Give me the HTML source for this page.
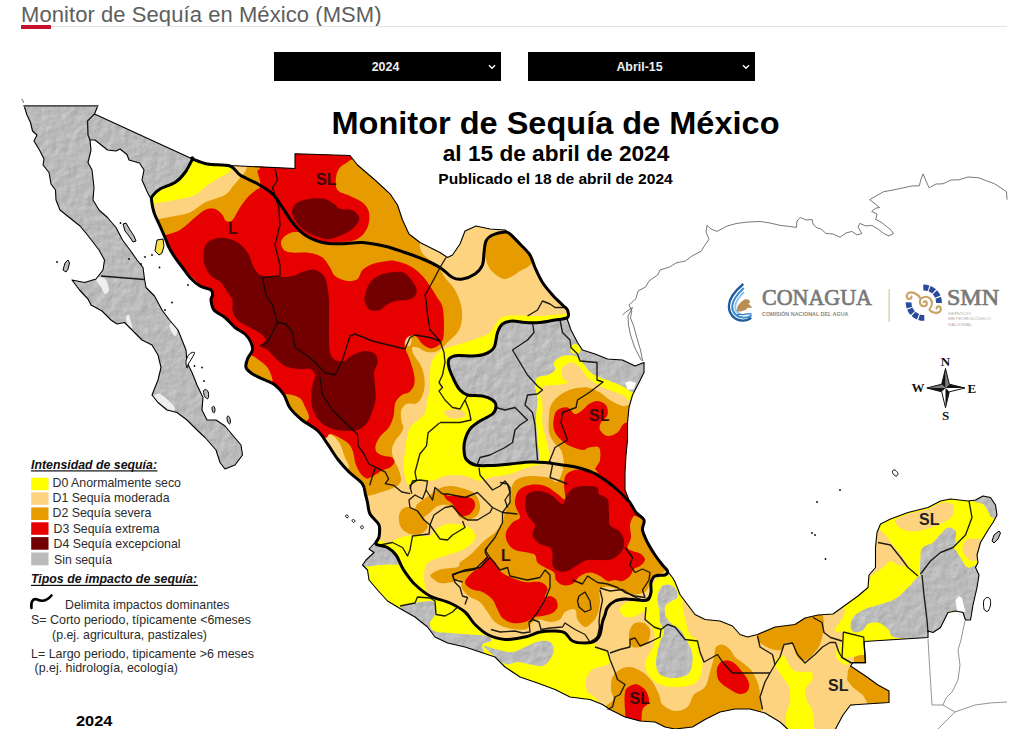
<!DOCTYPE html>
<html><head><meta charset="utf-8">
<style>
html,body{margin:0;padding:0;background:#fff;}
body{width:1024px;height:729px;overflow:hidden;position:relative;font-family:"Liberation Sans",sans-serif;}
.h1{position:absolute;left:21px;top:2px;font-size:22px;color:#5e5e5e;white-space:nowrap;letter-spacing:0.07px;line-height:26px;}
.rule{position:absolute;left:21px;top:25.5px;width:986px;height:1px;background:#e3e3e3;}
.red{position:absolute;left:21px;top:25px;width:30px;height:4px;background:#c8102e;}
.dd{position:absolute;top:52px;height:29px;width:227px;background:#000;color:#efefef;font-size:12.4px;font-weight:bold;text-align:center;line-height:31px;box-sizing:border-box;padding-right:4px;}
.dd svg{position:absolute;right:5px;top:12px;}
</style></head>
<body>
<div class="h1">Monitor de Sequía en México (MSM)</div>
<div class="rule"></div><div class="red"></div>
<div class="dd" style="left:274px">2024<svg width="8" height="6" viewBox="0 0 8 6"><path d="M1,1.2 L4,4.2 L7,1.2" fill="none" stroke="#fff" stroke-width="1.4"/></svg></div>
<div class="dd" style="left:528px">Abril-15<svg width="8" height="6" viewBox="0 0 8 6"><path d="M1,1.2 L4,4.2 L7,1.2" fill="none" stroke="#fff" stroke-width="1.4"/></svg></div>
<svg width="1024" height="729" viewBox="0 0 1024 729" style="position:absolute;left:0;top:0">
<defs><clipPath id="mx"><path d="M94.5,114.0 L192.5,159.0 L207.5,164.0 L230.0,165.5 L295.0,168.5 L295.0,153.8 L350.0,155.5 L357.5,165.0 L375.0,180.0 L390.0,193.8 L397.5,205.0 L402.5,220.0 L409.0,234.0 L420.0,242.5 L430.0,247.5 L440.0,252.5 L447.5,257.5 L452.5,255.0 L460.0,244.0 L465.0,231.0 L476.0,226.0 L490.0,229.0 L505.0,230.0 L510.0,234.0 L520.0,244.0 L530.0,255.0 L535.0,267.5 L542.5,282.5 L552.5,295.0 L562.5,305.0 L567.5,310.0 L567.5,320.0 L571.0,330.0 L577.5,342.5 L582.5,350.0 L595.0,354.0 L607.5,359.0 L622.5,360.0 L635.0,366.0 L644.0,362.5 L644.0,372.5 L639.0,382.5 L632.5,395.0 L629.0,407.5 L627.5,422.5 L627.5,440.0 L626.0,455.0 L625.0,472.5 L625.0,490.0 L630.0,502.5 L636.0,512.5 L644.0,520.0 L642.5,530.0 L647.5,542.5 L655.0,555.0 L662.5,565.0 L667.5,571.0 L672.5,577.5 L675.0,582.0 L680.0,594.5 L687.5,604.5 L695.0,614.5 L705.0,619.5 L720.0,621.0 L732.5,626.0 L740.0,634.5 L747.5,637.0 L757.5,634.5 L775.0,627.0 L795.0,624.5 L805.0,618.0 L818.0,615.0 L833.0,614.0 L845.5,605.0 L858.0,596.0 L868.0,587.5 L869.0,575.0 L875.5,567.5 L875.5,547.5 L877.0,532.5 L880.5,524.0 L890.5,519.0 L908.0,512.5 L928.0,507.5 L940.5,501.0 L950.5,499.0 L968.0,501.0 L975.5,500.0 L983.0,496.0 L990.5,497.5 L995.5,505.0 L997.0,515.0 L993.0,522.5 L988.0,530.0 L980.5,542.5 L977.0,555.0 L978.0,562.5 L975.5,567.5 L979.0,575.0 L977.0,587.5 L973.0,605.0 L970.5,620.0 L965.5,620.0 L963.0,612.5 L955.5,611.0 L948.0,612.5 L940.5,627.5 L933.0,632.5 L928.0,631.0 L928.0,637.5 L864.0,641.5 L865.5,662.5 L853.0,662.5 L850.5,666.0 L865.5,676.0 L878.0,685.0 L889.0,691.0 L889.0,702.5 L850.5,705.0 L843.0,715.0 L835.5,729.0 L834.0,740.0 L792.0,740.0 L787.5,729.0 L780.0,722.0 L765.0,713.0 L750.0,709.0 L735.0,709.0 L720.0,712.0 L705.0,719.5 L692.5,727.0 L675.0,729.0 L665.0,727.0 L655.0,722.0 L640.0,721.0 L625.0,717.0 L610.0,709.5 L602.5,704.5 L590.0,699.5 L570.0,697.0 L555.0,689.5 L537.5,683.0 L520.0,677.0 L505.0,667.0 L495.0,657.0 L480.0,652.0 L465.0,647.0 L447.5,643.0 L435.0,637.0 L427.5,627.0 L415.0,617.0 L400.0,608.5 L387.5,601.0 L377.5,590.0 L369.0,580.0 L367.5,570.0 L362.5,565.0 L366.0,560.0 L374.0,552.5 L369.0,549.0 L375.0,542.5 L379.0,536.0 L379.0,525.0 L370.0,514.0 L367.5,502.5 L365.6,495.0 L362.3,483.7 L349.0,472.0 L337.6,459.0 L327.7,444.2 L317.9,431.0 L301.4,419.5 L290.0,408.0 L284.0,395.0 L275.0,385.0 L265.0,380.0 L252.5,374.0 L246.0,367.5 L247.5,359.0 L252.5,350.0 L251.0,342.5 L245.0,334.0 L235.0,327.5 L225.0,317.5 L214.0,310.0 L211.0,300.0 L212.5,295.0 L211.0,290.0 L200.0,286.0 L190.0,277.5 L182.5,267.5 L175.0,257.5 L169.0,247.5 L165.0,237.5 L160.0,226.0 L154.0,212.5 L151.5,200.0 L147.5,192.5 L142.0,180.0 L144.0,170.0 L139.5,163.0 L129.0,160.0 L127.0,154.5 L120.0,149.0 L116.0,151.0 L107.5,150.0 L100.0,144.0 L95.0,140.0 L90.0,140.0 L91.0,150.0 L88.0,162.5 L92.0,170.0 L94.0,187.5 L93.0,200.0 L99.0,210.0 L107.5,217.5 L116.0,227.5 L122.5,240.0 L130.0,250.0 L137.0,260.0 L143.0,267.5 L144.5,279.0 L146.0,287.5 L154.5,296.0 L162.0,310.0 L169.5,320.0 L178.0,330.0 L182.0,340.0 L186.0,350.0 L187.0,362.5 L192.0,372.5 L197.0,385.0 L203.0,397.5 L202.0,410.0 L207.0,420.0 L216.0,420.0 L225.0,426.0 L232.5,435.0 L241.0,445.0 L242.5,455.0 L235.0,465.0 L225.0,469.0 L220.0,462.5 L216.0,450.0 L205.0,437.5 L197.0,430.0 L187.0,420.0 L177.0,412.5 L167.0,410.0 L158.0,402.5 L152.0,395.0 L158.0,380.0 L161.0,367.5 L158.0,355.0 L152.0,345.0 L142.0,340.0 L132.0,330.0 L124.5,322.5 L117.0,324.0 L111.0,320.0 L102.0,311.0 L91.0,305.0 L88.0,299.0 L79.5,290.0 L72.0,280.0 L84.5,282.5 L96.0,279.0 L103.0,270.0 L104.5,260.0 L99.0,250.0 L87.5,235.0 L80.0,226.0 L72.5,220.0 L60.0,210.0 L56.0,200.0 L55.5,190.0 L51.0,184.0 L49.0,172.5 L43.0,165.0 L44.0,159.0 L40.0,151.0 L34.0,141.0 L37.0,135.0 L32.5,131.0 L30.5,122.5 L27.0,115.0 L24.0,105.5 L98.0,105.5 Z"/>
</clipPath>
<filter id="relief" x="0" y="0" width="100%" height="100%" filterUnits="objectBoundingBox" color-interpolation-filters="sRGB">
<feTurbulence type="fractalNoise" baseFrequency="0.11" numOctaves="4" seed="7" result="t"/>
<feDiffuseLighting in="t" surfaceScale="0.4" diffuseConstant="1" lighting-color="#ffffff" result="l"><feDistantLight azimuth="225" elevation="50"/></feDiffuseLighting>
<feBlend in="SourceGraphic" in2="l" mode="multiply" result="b"/>
<feComposite in="b" in2="SourceGraphic" operator="in"/>
</filter>
</defs>
<path d="M642.7,361.0 L640.5,350.0 L637.5,340.0 L635.0,331.0 L633.8,326.5 L630.5,318.0 L631.8,310.7 L629.0,305.0 L635.8,298.8 L638.0,291.0 L645.7,286.9 L649.0,281.0 L657.6,275.0 L660.0,270.0 L669.5,267.0 L676.0,263.0 L685.3,261.0 L692.0,256.0 L701.2,251.2 L705.0,245.0 L709.0,239.3 L706.0,232.0 L707.0,225.4 L711.0,229.0 L717.0,231.4 L727.0,226.0 L736.9,223.4 L748.0,222.0 L760.7,221.5 L770.0,223.0 L780.5,225.4 L790.0,226.5 L796.4,227.4 L797.0,221.0 L800.3,217.5 L806.0,220.0 L812.2,219.5 L813.0,224.0 L816.2,227.4 L821.0,229.0 L826.0,233.4 L833.0,234.0 L840.0,237.3 L846.0,233.0 L851.9,231.4 L857.0,235.0 L861.8,233.4 L858.0,227.0 L859.8,223.4 L866.0,226.0 L871.7,225.4 L878.0,229.0 L883.6,233.4 L889.0,236.0 L893.5,233.4 L890.0,229.0 L887.6,227.4 L881.0,222.0 L875.7,219.5 L877.0,214.0 L871.7,211.5 L876.0,208.0 L879.6,207.6 L874.0,203.0 L869.7,199.7 L876.0,196.0 L883.6,191.7 L893.0,190.0 L903.4,187.8 L912.0,186.0 L919.3,185.8 L921.0,179.0 L923.2,173.9 L926.0,181.0 L929.2,187.8 L936.0,184.0 L943.0,183.8 L951.0,180.0 L958.9,179.8 L968.0,177.0 L978.8,177.8 L987.0,181.0 L994.6,183.8 L1001.0,188.0 L1006.5,191.7 L1007.0,199.7" fill="none" stroke="#555" stroke-width="0.8"/>
<path d="M622.5,315.0 L627.0,311.0 L632.5,307.5 L628.0,316.0 L628.5,325.0 L630.5,335.0 L634.5,347.0 L638.5,355.0 L641.5,360.5" fill="none" stroke="#555" stroke-width="0.8"/>
<path d="M928.0,639.0 L929.5,665.0 L932.0,705.0 L943.0,705.0 L946.0,698.0 L952.0,692.0 L958.0,680.0 L960.0,665.0 L958.0,650.0 L961.0,640.0 L963.0,630.0 L965.0,621.0" fill="none" stroke="#666" stroke-width="0.7"/>
<path d="M835.5,729.0 L840.0,712.0 L845.0,706.0 L856.0,704.5" fill="none" stroke="#666" stroke-width="0.7"/>
<path d="M943.0,705.0 L955.0,712.0 L975.0,705.0 L990.0,703.0 L1007.0,702.0" fill="none" stroke="#666" stroke-width="0.7"/>
<path d="M955.0,712.0 L945.0,722.0 L938.0,729.0" fill="none" stroke="#666" stroke-width="0.7"/>
<g clip-path="url(#mx)">
<rect x="0" y="90" width="330" height="400" fill="#f4f4f4" filter="url(#relief)"/>
<path d="M192.5,159.0 L185.0,172.5 L175.0,182.5 L160.0,189.0 L151.0,197.0 L145.0,215.0 L175.0,275.0 L215.0,340.0 L240.0,400.0 L290.0,470.0 L300.0,740.0 L1030.0,740.0 L1030.0,90.0 L192.5,90.0 Z" fill="#ffff00" />
<path d="M140.0,210.0 C143.8,208.2 147.2,205.7 153.0,204.0 C158.8,202.3 168.0,201.5 175.0,200.0 C182.0,198.5 189.6,197.5 195.0,195.0 C200.4,192.5 203.3,187.9 207.5,185.0 C211.7,182.1 216.2,179.8 220.0,177.5 C223.8,175.2 228.0,173.9 230.0,171.0 C232.0,168.1 231.7,166.8 232.0,160.0 C232.3,153.2 169.0,135.0 232.0,130.0 C295.0,125.0 547.0,99.3 610.0,130.0 C673.0,160.7 617.2,283.3 610.0,314.0 C602.8,344.7 578.7,313.7 567.0,314.0 C555.3,314.3 547.8,315.8 540.0,316.0 C532.2,316.2 525.8,315.5 520.0,315.5 C514.2,315.5 508.8,315.0 505.0,316.0 C501.2,317.0 500.0,318.8 497.5,321.5 C495.0,324.2 492.9,329.8 490.0,332.5 C487.1,335.2 484.2,335.8 480.0,337.5 C475.8,339.2 470.5,340.8 465.0,342.5 C459.5,344.2 451.3,346.3 447.0,348.0 C442.7,349.7 441.2,350.9 439.0,352.5 C436.8,354.1 435.3,355.6 434.0,357.5 C432.7,359.4 431.7,361.0 431.0,364.0 C430.3,367.0 430.2,371.5 430.0,375.6 C429.8,379.7 430.4,385.0 430.0,388.8 C429.6,392.6 428.5,394.6 427.6,398.6 C426.8,402.6 426.7,409.2 424.9,413.0 C423.1,416.8 419.1,418.8 416.6,421.2 C414.1,423.6 411.6,424.7 410.0,427.7 C408.4,430.7 407.5,435.4 406.7,439.3 C405.9,443.2 405.6,446.4 405.1,450.8 C404.6,455.2 403.5,461.2 403.5,465.6 C403.5,470.0 404.0,473.5 405.1,477.1 C406.2,480.7 408.4,486.1 410.0,487.0 C411.6,487.9 412.5,483.5 415.0,482.5 C417.5,481.5 421.7,481.4 425.0,481.0 C428.3,480.6 431.7,480.8 435.0,480.0 C438.3,479.2 440.8,476.8 445.0,476.0 C449.2,475.2 455.8,474.8 460.0,475.0 C464.2,475.2 466.7,476.5 470.0,477.5 C473.3,478.5 476.7,481.0 480.0,481.0 C483.3,481.0 485.8,478.5 490.0,477.5 C494.2,476.5 500.8,475.8 505.0,475.0 C509.2,474.2 511.7,473.7 515.0,472.5 C518.3,471.3 521.2,469.2 525.0,468.0 C528.8,466.8 534.0,466.2 538.0,465.0 C542.0,463.8 547.4,464.3 549.0,461.0 C550.6,457.7 548.6,451.0 547.5,445.0 C546.4,439.0 543.3,431.7 542.5,425.0 C541.7,418.3 542.9,410.4 542.5,405.0 C542.1,399.6 539.6,395.7 540.0,392.5 C540.4,389.3 542.1,387.2 545.0,386.0 C547.9,384.8 553.8,385.6 557.5,385.0 C561.2,384.4 566.7,383.8 567.5,382.5 C568.3,381.2 563.3,380.0 562.5,377.5 C561.7,375.0 560.8,370.0 562.5,367.5 C564.2,365.0 569.6,362.5 572.5,362.5 C575.4,362.5 577.5,365.0 580.0,367.5 C582.5,370.0 584.2,374.4 587.5,377.5 C590.8,380.6 595.8,383.8 600.0,386.0 C604.2,388.2 608.3,389.3 612.5,391.0 C616.7,392.7 621.9,394.5 625.0,396.0 C628.1,397.5 623.5,399.3 631.0,400.0 C638.5,400.7 658.5,383.3 670.0,400.0 C681.5,416.7 695.0,471.5 700.0,500.0 C705.0,528.5 705.5,559.2 700.0,571.0 C694.5,582.8 672.8,570.3 667.0,571.0 C661.2,571.7 667.0,574.2 665.0,575.0 C663.0,575.8 657.3,574.8 655.0,576.0 C652.7,577.2 651.7,579.8 651.0,582.5 C650.3,585.2 651.6,589.6 651.0,592.5 C650.4,595.4 649.8,598.8 647.5,600.0 C645.2,601.2 641.2,600.2 637.5,600.0 C633.8,599.8 628.8,598.8 625.0,599.0 C621.2,599.2 617.9,599.6 615.0,601.0 C612.1,602.4 609.2,605.2 607.5,607.5 C605.8,609.8 605.8,612.6 605.0,615.0 C604.2,617.4 603.3,618.8 602.5,622.0 C601.7,625.2 601.2,631.3 600.0,634.5 C598.8,637.7 597.5,639.6 595.0,641.0 C592.5,642.4 588.8,643.0 585.0,643.0 C581.2,643.0 575.8,642.7 572.5,641.0 C569.2,639.3 567.9,634.7 565.0,633.0 C562.1,631.3 559.2,631.2 555.0,631.0 C550.8,630.8 545.0,631.0 540.0,632.0 C535.0,633.0 530.8,635.8 525.0,637.0 C519.2,638.2 511.2,639.9 505.0,639.5 C498.8,639.1 492.5,637.0 487.5,634.5 C482.5,632.0 478.8,628.2 475.0,624.5 C471.2,620.8 469.2,615.6 465.0,612.0 C460.8,608.4 455.8,605.7 450.0,603.0 C444.2,600.3 434.2,599.0 430.0,596.0 C425.8,593.0 426.0,588.5 425.0,585.0 C424.0,581.5 423.8,578.3 424.0,575.0 C424.2,571.7 424.6,567.5 426.0,565.0 C427.4,562.5 429.3,561.5 432.5,560.0 C435.7,558.5 440.4,557.5 445.0,556.0 C449.6,554.5 455.8,552.8 460.0,551.0 C464.2,549.2 467.5,547.2 470.0,545.0 C472.5,542.8 474.6,540.0 475.0,537.5 C475.4,535.0 474.6,532.1 472.5,530.0 C470.4,527.9 466.7,526.0 462.5,525.0 C458.3,524.0 452.1,523.2 447.5,524.0 C442.9,524.8 437.9,528.0 435.0,530.0 C432.1,532.0 433.3,535.2 430.0,536.0 C426.7,536.8 420.0,534.8 415.0,535.0 C410.0,535.2 403.8,536.5 400.0,537.5 C396.2,538.5 394.6,540.1 392.5,541.0 C390.4,541.9 389.6,543.0 387.5,543.0 C385.4,543.0 387.1,542.0 380.0,541.0 C372.9,540.0 360.0,553.8 345.0,537.0 C330.0,520.2 314.2,479.5 290.0,440.0 C265.8,400.5 226.7,337.5 200.0,300.0 C173.3,262.5 140.0,230.0 130.0,215.0 C120.0,200.0 136.2,211.8 140.0,210.0 Z" fill="#fdd380" />
<path d="M595.0,641.0 C595.0,643.5 597.9,647.7 600.0,649.5 C602.1,651.3 605.8,650.3 607.5,652.0 C609.2,653.7 610.0,657.4 610.0,659.5 C610.0,661.6 610.4,662.8 607.5,664.5 C604.6,666.2 596.1,667.0 592.5,669.5 C588.9,672.0 586.8,675.8 586.0,679.5 C585.2,683.2 585.6,688.2 587.5,692.0 C589.4,695.8 595.9,694.0 597.5,702.0 C599.1,710.0 547.4,733.7 597.0,740.0 C646.6,746.3 845.3,753.8 895.0,740.0 C944.7,726.2 903.7,670.8 895.0,657.0 C886.3,643.2 851.7,661.1 843.0,657.0 C834.3,652.9 844.2,637.0 843.0,632.5 C841.8,628.0 836.8,635.4 835.5,630.0 C834.2,624.6 857.6,611.7 835.0,600.0 C812.4,588.3 727.8,564.8 700.0,560.0 C672.2,555.2 673.8,568.5 668.0,571.0 C662.2,573.5 667.2,574.2 665.0,575.0 C662.8,575.8 657.3,574.8 655.0,576.0 C652.7,577.2 651.7,579.8 651.0,582.5 C650.3,585.2 651.6,589.6 651.0,592.5 C650.4,595.4 649.8,598.8 647.5,600.0 C645.2,601.2 641.2,600.2 637.5,600.0 C633.8,599.8 628.8,598.8 625.0,599.0 C621.2,599.2 617.9,599.6 615.0,601.0 C612.1,602.4 609.2,605.2 607.5,607.5 C605.8,609.8 605.8,612.6 605.0,615.0 C604.2,617.4 603.3,618.8 602.5,622.0 C601.7,625.2 601.2,631.3 600.0,634.5 C598.8,637.7 595.0,638.5 595.0,641.0 Z" fill="#fdd380" />
<path d="M895.5,520.0 C897.2,518.0 902.6,515.8 908.0,514.0 C913.4,512.2 922.2,510.9 928.0,509.0 C933.8,507.1 938.8,503.2 943.0,502.5 C947.2,501.8 951.3,503.1 953.0,505.0 C954.7,506.9 953.8,511.5 953.0,514.0 C952.2,516.5 950.5,518.2 948.0,520.0 C945.5,521.8 942.2,523.3 938.0,525.0 C933.8,526.7 928.0,529.0 923.0,530.0 C918.0,531.0 912.2,531.7 908.0,531.0 C903.8,530.3 900.1,527.8 898.0,526.0 C895.9,524.2 893.8,522.0 895.5,520.0 Z" fill="#fdd380" />
<path d="M870.0,525.0 C872.2,517.2 875.4,527.3 878.0,529.0 C880.6,530.7 883.0,532.3 885.5,535.0 C888.0,537.7 890.1,541.2 893.0,545.0 C895.9,548.8 900.7,554.2 903.0,557.5 C905.3,560.8 907.8,563.8 907.0,565.0 C906.2,566.2 900.8,565.7 898.0,565.0 C895.2,564.3 893.0,560.6 890.5,561.0 C888.0,561.4 885.5,565.6 883.0,567.5 C880.5,569.4 878.5,571.1 875.5,572.5 C872.5,573.9 865.9,583.9 865.0,576.0 C864.1,568.1 867.8,532.8 870.0,525.0 Z" fill="#fdd380" />
<path d="M963.0,545.0 C963.8,542.8 965.5,540.0 968.0,539.0 C970.5,538.0 974.3,538.8 978.0,539.0 C981.7,539.2 988.8,537.2 990.0,540.0 C991.2,542.8 987.8,552.5 985.0,556.0 C982.2,559.5 976.0,560.8 973.0,561.0 C970.0,561.2 968.7,558.9 967.0,557.5 C965.3,556.1 963.7,554.6 963.0,552.5 C962.3,550.4 962.2,547.2 963.0,545.0 Z" fill="#fdd380" />
<path d="M620.0,609.5 C620.2,607.3 622.1,604.4 625.0,603.0 C627.9,601.6 633.3,601.2 637.5,601.0 C641.7,600.8 647.9,601.2 650.0,602.0 C652.1,602.8 651.2,604.3 650.0,606.0 C648.8,607.7 645.4,610.2 642.5,612.0 C639.6,613.8 635.6,616.3 632.5,617.0 C629.4,617.7 626.1,617.2 624.0,616.0 C621.9,614.8 619.8,611.7 620.0,609.5 Z" fill="#ffff00" />
<path d="M650.0,592.0 C650.7,588.2 651.5,584.7 654.0,582.0 C656.5,579.3 659.8,576.0 665.0,576.0 C670.2,576.0 682.1,577.2 685.0,582.0 C687.9,586.8 682.3,597.8 682.5,604.5 C682.7,611.2 684.8,617.0 686.0,622.0 C687.2,627.0 687.8,631.2 690.0,634.5 C692.2,637.8 697.3,638.7 699.0,642.0 C700.7,645.3 699.4,650.8 700.0,654.5 C700.6,658.2 702.5,660.8 702.5,664.5 C702.5,668.2 701.7,673.7 700.0,677.0 C698.3,680.3 696.7,682.8 692.5,684.5 C688.3,686.2 680.4,687.0 675.0,687.0 C669.6,687.0 664.2,686.2 660.0,684.5 C655.8,682.8 652.5,680.3 650.0,677.0 C647.5,673.7 645.2,668.2 645.0,664.5 C644.8,660.8 647.5,657.8 649.0,654.5 C650.5,651.2 653.2,648.2 654.0,644.5 C654.8,640.8 655.1,635.8 654.0,632.0 C652.9,628.2 648.8,625.3 647.5,622.0 C646.2,618.7 645.6,614.9 646.0,612.0 C646.4,609.1 649.3,607.8 650.0,604.5 C650.7,601.2 649.3,595.8 650.0,592.0 Z" fill="#ffff00" />
<path d="M775.0,664.5 C774.6,661.0 778.3,657.2 780.0,656.0 C781.7,654.8 782.9,654.8 785.0,657.0 C787.1,659.2 789.6,667.0 792.5,669.5 C795.4,672.0 799.4,671.6 802.5,672.0 C805.6,672.4 809.3,670.8 811.0,672.0 C812.7,673.2 813.5,676.6 812.5,679.5 C811.5,682.4 805.8,685.8 805.0,689.5 C804.2,693.2 806.2,698.2 807.5,702.0 C808.8,705.8 811.7,705.7 812.5,712.0 C813.3,718.3 816.2,735.3 812.5,740.0 C808.8,744.7 794.4,743.8 790.0,740.0 C785.6,736.2 786.0,723.3 786.0,717.0 C786.0,710.7 789.5,707.0 790.0,702.0 C790.5,697.0 790.2,691.2 789.0,687.0 C787.8,682.8 784.8,680.8 782.5,677.0 C780.2,673.2 775.4,668.0 775.0,664.5 Z" fill="#ffff00" />
<path d="M145.0,224.0 C144.8,218.8 154.0,220.3 159.0,219.0 C164.0,217.7 169.8,217.1 175.0,216.0 C180.2,214.9 185.0,214.8 190.0,212.5 C195.0,210.2 199.2,205.4 205.0,202.5 C210.8,199.6 220.3,197.8 225.0,195.0 C229.7,192.2 230.5,188.8 233.0,186.0 C235.5,183.2 237.8,180.7 240.0,178.0 C242.2,175.3 244.8,173.0 246.0,170.0 C247.2,167.0 246.8,166.7 247.0,160.0 C247.2,153.3 227.3,135.0 247.0,130.0 C266.7,125.0 334.8,113.0 365.0,130.0 C395.2,147.0 418.8,213.2 428.0,232.0 C437.2,250.8 420.8,239.3 420.0,243.0 C419.2,246.7 420.1,250.2 423.0,254.0 C425.9,257.8 433.8,262.1 437.5,266.0 C441.2,269.9 442.1,273.5 445.0,277.5 C447.9,281.5 452.3,285.2 455.0,290.0 C457.7,294.8 460.3,301.0 461.4,306.5 C462.5,312.0 462.1,318.6 461.4,323.0 C460.7,327.4 459.3,329.8 457.2,332.8 C455.1,335.8 451.5,338.5 449.0,341.0 C446.5,343.5 444.6,345.8 442.4,347.6 C440.2,349.4 438.5,351.0 435.8,351.7 C433.1,352.4 429.0,352.4 426.0,351.7 C423.0,351.0 420.0,348.3 417.7,347.6 C415.4,346.9 412.6,346.2 412.0,347.6 C411.4,349.0 412.9,352.8 414.4,355.8 C415.9,358.8 419.4,362.1 421.0,365.7 C422.6,369.3 423.8,373.3 424.3,377.2 C424.9,381.1 424.9,385.2 424.3,388.8 C423.8,392.4 422.4,396.1 421.0,398.6 C419.6,401.1 417.9,402.8 416.0,403.6 C414.1,404.4 411.3,403.4 409.5,403.6 C407.7,403.8 406.5,403.4 405.1,404.7 C403.7,406.0 401.6,408.3 401.0,411.3 C400.4,414.3 401.4,420.1 401.8,422.8 C402.2,425.5 403.8,425.8 403.5,427.7 C403.2,429.6 401.6,432.1 400.2,434.3 C398.8,436.5 396.6,438.4 395.2,440.9 C393.8,443.4 392.2,446.1 391.9,449.1 C391.6,452.1 392.5,455.7 393.6,459.0 C394.7,462.3 397.3,465.3 398.5,468.9 C399.7,472.5 401.6,477.4 401.0,480.4 C400.4,483.4 398.4,485.1 395.2,487.0 C392.0,488.9 386.9,490.5 382.0,492.0 C377.1,493.5 369.9,496.0 365.6,496.0 C361.3,496.0 359.6,495.7 356.0,492.0 C352.4,488.3 345.2,478.2 344.0,474.0 C342.8,469.8 349.0,470.1 349.0,467.0 C349.0,463.9 345.6,459.2 344.2,455.7 C342.8,452.2 342.5,448.9 340.9,445.8 C339.2,442.7 337.1,439.0 334.3,436.8 C331.6,434.6 327.4,432.8 324.4,432.7 C321.3,432.6 320.9,438.1 316.0,436.0 C311.1,433.9 302.7,426.8 295.0,420.0 C287.3,413.2 279.2,402.5 270.0,395.0 C260.8,387.5 245.3,383.3 240.0,375.0 C234.7,366.7 243.8,355.0 238.0,345.0 C232.2,335.0 212.2,324.2 205.0,315.0 C197.8,305.8 202.5,300.8 195.0,290.0 C187.5,279.2 168.3,261.0 160.0,250.0 C151.7,239.0 145.2,229.2 145.0,224.0 Z" fill="#e69b00" />
<path d="M486.0,242.5 C487.2,239.8 489.3,237.8 492.5,236.0 C495.7,234.2 500.1,230.8 505.0,232.0 C509.9,233.2 517.3,238.7 522.0,243.0 C526.7,247.3 531.8,254.2 533.0,258.0 C534.2,261.8 531.2,263.8 529.0,266.0 C526.8,268.2 522.8,269.3 520.0,271.0 C517.2,272.7 515.0,274.7 512.5,276.0 C510.0,277.3 507.5,279.0 505.0,279.0 C502.5,279.0 500.0,277.7 497.5,276.0 C495.0,274.3 491.9,271.7 490.0,269.0 C488.1,266.3 486.8,262.8 486.0,260.0 C485.2,257.2 485.0,255.4 485.0,252.5 C485.0,249.6 484.8,245.2 486.0,242.5 Z" fill="#e69b00" />
<path d="M551.0,405.0 C552.8,401.2 556.4,397.7 560.0,395.0 C563.6,392.3 567.9,390.2 572.5,389.0 C577.1,387.8 582.9,386.9 587.5,387.5 C592.1,388.1 596.2,390.4 600.0,392.5 C603.8,394.6 606.2,397.8 610.0,400.0 C613.8,402.2 617.5,404.3 622.5,406.0 C627.5,407.7 637.1,398.5 640.0,410.0 C642.9,421.5 646.7,464.2 640.0,475.0 C633.3,485.8 609.2,476.2 600.0,475.0 C590.8,473.8 589.6,469.3 585.0,468.0 C580.4,466.7 576.0,467.3 572.5,467.0 C569.0,466.7 565.4,466.8 564.0,466.0 C562.6,465.2 564.5,465.2 564.0,462.5 C563.5,459.8 562.7,453.3 561.0,450.0 C559.3,446.7 556.0,445.4 554.0,442.5 C552.0,439.6 549.8,436.7 549.0,432.5 C548.2,428.3 548.7,422.1 549.0,417.5 C549.3,412.9 549.2,408.8 551.0,405.0 Z" fill="#e69b00" />
<path d="M516.0,480.0 C519.2,477.7 524.8,476.4 530.0,476.0 C535.2,475.6 543.2,476.5 547.5,477.5 C551.8,478.5 553.9,481.9 556.0,482.0 C558.1,482.1 558.8,480.0 560.0,478.0 C561.2,476.0 562.0,472.0 563.0,470.0 C564.0,468.0 559.8,466.3 566.0,466.0 C572.2,465.7 586.8,463.2 600.0,468.0 C613.2,472.8 634.2,483.0 645.0,495.0 C655.8,507.0 658.3,527.3 665.0,540.0 C671.7,552.7 684.7,565.8 685.0,571.0 C685.3,576.2 671.2,570.5 667.0,571.0 C662.8,571.5 662.5,573.0 660.0,574.0 C657.5,575.0 654.0,574.7 652.0,577.0 C650.0,579.3 649.2,585.5 648.0,588.0 C646.8,590.5 647.2,590.9 645.0,592.0 C642.8,593.1 638.3,594.5 635.0,594.5 C631.7,594.5 629.2,593.2 625.0,592.0 C620.8,590.8 614.2,587.4 610.0,587.0 C605.8,586.6 601.7,587.0 600.0,589.5 C598.3,592.0 600.4,597.8 600.0,602.0 C599.6,606.2 598.8,611.2 597.5,614.5 C596.2,617.8 594.6,619.9 592.5,622.0 C590.4,624.1 587.5,627.4 585.0,627.0 C582.5,626.6 579.2,622.4 577.5,619.5 C575.8,616.6 577.1,610.8 575.0,609.5 C572.9,608.2 567.5,610.3 565.0,612.0 C562.5,613.7 562.5,617.8 560.0,619.5 C557.5,621.2 553.3,622.0 550.0,622.0 C546.7,622.0 542.9,619.5 540.0,619.5 C537.1,619.5 535.0,620.3 532.5,622.0 C530.0,623.7 529.2,628.5 525.0,629.5 C520.8,630.5 512.5,629.2 507.5,628.0 C502.5,626.8 498.3,624.7 495.0,622.0 C491.7,619.3 490.0,615.3 487.5,612.0 C485.0,608.7 482.9,604.5 480.0,602.0 C477.1,599.5 472.9,599.1 470.0,597.0 C467.1,594.9 464.2,592.4 462.5,589.5 C460.8,586.6 461.7,580.8 460.0,579.5 C458.3,578.2 455.8,581.4 452.5,582.0 C449.2,582.6 443.6,583.8 440.0,583.0 C436.4,582.2 432.5,578.4 431.0,577.0 C429.5,575.6 429.5,575.8 431.0,574.5 C432.5,573.2 435.6,570.8 440.0,569.5 C444.4,568.2 454.2,568.2 457.5,567.0 C460.8,565.8 457.9,564.5 460.0,562.5 C462.1,560.5 467.1,557.5 470.0,555.0 C472.9,552.5 475.0,550.0 477.5,547.5 C480.0,545.0 482.1,542.5 485.0,540.0 C487.9,537.5 492.1,535.4 495.0,532.5 C497.9,529.6 500.8,525.8 502.5,522.5 C504.2,519.2 503.8,515.8 505.0,512.5 C506.2,509.2 509.0,506.2 510.0,502.5 C511.0,498.8 510.0,493.8 511.0,490.0 C512.0,486.2 512.8,482.3 516.0,480.0 Z" fill="#e69b00" />
<path d="M399.0,515.0 C399.7,511.7 402.2,508.5 405.0,507.5 C407.8,506.5 412.8,507.3 416.0,509.0 C419.2,510.7 422.1,514.4 424.0,517.5 C425.9,520.6 428.2,524.8 427.5,527.5 C426.8,530.2 422.9,532.9 420.0,534.0 C417.1,535.1 413.2,535.1 410.0,534.0 C406.8,532.9 402.8,530.7 401.0,527.5 C399.2,524.3 398.3,518.3 399.0,515.0 Z" fill="#e69b00" />
<path d="M416.0,506.0 C417.1,503.7 420.2,501.8 422.5,500.0 C424.8,498.2 427.5,496.8 430.0,495.0 C432.5,493.2 434.2,490.5 437.5,489.0 C440.8,487.5 445.4,486.0 450.0,486.0 C454.6,486.0 460.8,487.7 465.0,489.0 C469.2,490.3 472.5,491.3 475.0,494.0 C477.5,496.7 479.6,501.5 480.0,505.0 C480.4,508.5 479.6,512.5 477.5,515.0 C475.4,517.5 470.4,519.6 467.5,520.0 C464.6,520.4 462.1,519.2 460.0,517.5 C457.9,515.8 457.1,512.1 455.0,510.0 C452.9,507.9 450.4,505.7 447.5,505.0 C444.6,504.3 440.4,504.8 437.5,506.0 C434.6,507.2 432.5,510.6 430.0,512.5 C427.5,514.4 424.8,517.2 422.5,517.5 C420.2,517.8 417.1,515.9 416.0,514.0 C414.9,512.1 414.9,508.3 416.0,506.0 Z" fill="#e69b00" />
<path d="M630.0,629.5 C631.0,626.8 632.7,624.1 635.0,623.0 C637.3,621.9 641.5,621.9 644.0,623.0 C646.5,624.1 649.2,626.8 650.0,629.5 C650.8,632.2 650.2,636.8 649.0,639.5 C647.8,642.2 645.2,644.8 642.5,646.0 C639.8,647.2 634.8,648.1 632.5,647.0 C630.2,645.9 629.4,642.4 629.0,639.5 C628.6,636.6 629.0,632.2 630.0,629.5 Z" fill="#e69b00" />
<path d="M612.5,677.0 C614.0,673.7 617.1,671.2 620.0,669.5 C622.9,667.8 626.2,666.6 630.0,667.0 C633.8,667.4 638.8,669.5 642.5,672.0 C646.2,674.5 649.8,678.2 652.5,682.0 C655.2,685.8 657.3,690.8 659.0,694.5 C660.7,698.2 659.8,701.8 662.5,704.5 C665.2,707.2 670.8,710.6 675.0,711.0 C679.2,711.4 684.3,709.8 687.5,707.0 C690.7,704.2 691.1,697.8 694.0,694.5 C696.9,691.2 702.3,690.8 705.0,687.0 C707.7,683.2 708.5,677.0 710.0,672.0 C711.5,667.0 713.0,661.2 714.0,657.0 C715.0,652.8 714.6,649.1 716.0,647.0 C717.4,644.9 720.2,644.1 722.5,644.5 C724.8,644.9 727.9,647.4 730.0,649.5 C732.1,651.6 732.5,654.5 735.0,657.0 C737.5,659.5 742.1,662.0 745.0,664.5 C747.9,667.0 750.2,668.2 752.5,672.0 C754.8,675.8 757.8,682.0 759.0,687.0 C760.2,692.0 759.8,697.3 760.0,702.0 C760.2,706.7 763.3,707.8 760.0,715.0 C756.7,722.2 763.3,740.0 740.0,745.0 C716.7,750.0 642.7,750.5 620.0,745.0 C597.3,739.5 605.2,719.5 604.0,712.0 C602.8,704.5 611.8,703.8 613.0,700.0 C614.2,696.2 611.1,693.3 611.0,689.5 C610.9,685.7 611.0,680.3 612.5,677.0 Z" fill="#e69b00" />
<path d="M758.0,630.0 C760.8,627.0 768.8,623.7 775.0,622.0 C781.2,620.3 790.0,621.3 795.0,620.0 C800.0,618.7 801.7,615.3 805.0,614.0 C808.3,612.7 812.0,611.7 815.0,612.0 C818.0,612.3 821.7,612.7 823.0,616.0 C824.3,619.3 823.5,627.2 823.0,632.0 C822.5,636.8 821.3,641.2 820.0,644.5 C818.7,647.8 817.1,649.5 815.0,652.0 C812.9,654.5 810.0,658.2 807.5,659.5 C805.0,660.8 802.1,660.8 800.0,659.5 C797.9,658.2 796.2,654.5 795.0,652.0 C793.8,649.5 794.2,646.0 792.5,644.5 C790.8,643.0 786.7,642.2 785.0,643.0 C783.3,643.8 784.6,648.4 782.5,649.5 C780.4,650.6 775.8,650.3 772.5,649.5 C769.2,648.7 764.9,646.1 762.5,644.5 C760.1,642.9 758.8,642.4 758.0,640.0 C757.2,637.6 755.2,633.0 758.0,630.0 Z" fill="#e69b00" />
<path d="M852.0,663.0 L870.0,674.0 L892.0,688.0 L892.0,705.0 L868.0,704.0 L863.0,695.0 L853.0,687.5 L847.0,680.0 L848.0,670.0 Z" fill="#e69b00" />
<path d="M854.0,657.0 L860.0,655.0 L867.0,655.0 L867.0,663.0 L854.0,663.0 Z" fill="#e69b00" />
<path d="M405.0,337.0 C405.8,335.9 407.9,335.2 409.0,335.5 C410.1,335.8 411.2,337.4 411.5,339.0 C411.8,340.6 411.2,343.8 410.5,345.0 C409.8,346.2 408.0,346.5 407.0,346.0 C406.0,345.5 404.8,343.5 404.5,342.0 C404.2,340.5 404.2,338.1 405.0,337.0 Z" fill="#fdd380" />
<path d="M156.0,240.0 C157.0,237.5 162.0,236.7 166.0,235.0 C170.0,233.3 175.2,232.9 180.0,230.0 C184.8,227.1 190.8,220.8 195.0,217.5 C199.2,214.2 201.7,211.4 205.0,210.0 C208.3,208.6 212.1,208.2 215.0,209.0 C217.9,209.8 220.7,213.0 222.5,215.0 C224.3,217.0 224.3,220.2 226.0,221.0 C227.7,221.8 230.2,222.2 232.5,220.0 C234.8,217.8 237.5,211.2 240.0,207.5 C242.5,203.8 244.8,200.4 247.5,197.5 C250.2,194.6 253.9,191.7 256.0,190.0 C258.1,188.3 259.3,189.0 260.0,187.5 C260.7,186.0 260.4,183.8 260.0,181.0 C259.6,178.2 257.5,173.5 257.5,171.0 C257.5,168.5 259.6,172.8 260.0,166.0 C260.4,159.2 245.8,136.0 260.0,130.0 C274.2,124.0 329.7,125.7 345.0,130.0 C360.3,134.3 351.3,150.8 352.0,156.0 C352.7,161.2 351.0,159.1 349.0,161.0 C347.0,162.9 342.2,164.8 340.0,167.5 C337.8,170.2 336.4,173.8 336.0,177.5 C335.6,181.2 335.2,186.9 337.5,190.0 C339.8,193.1 345.8,193.9 350.0,196.0 C354.2,198.1 359.3,199.8 362.5,202.5 C365.7,205.2 368.2,208.3 369.0,212.5 C369.8,216.7 369.4,223.1 367.5,227.5 C365.6,231.9 362.1,236.5 357.5,239.0 C352.9,241.5 345.8,242.0 340.0,242.5 C334.2,243.0 328.3,243.4 322.5,242.0 C316.7,240.6 309.8,235.7 305.0,234.0 C300.2,232.3 297.3,231.7 294.0,232.0 C290.7,232.3 287.2,234.2 285.0,236.0 C282.8,237.8 281.2,240.2 281.0,242.5 C280.8,244.8 282.1,248.3 284.0,250.0 C285.9,251.7 288.2,252.0 292.5,252.5 C296.8,253.0 305.0,252.2 310.0,253.0 C315.0,253.8 319.2,255.1 322.5,257.5 C325.8,259.9 327.9,264.4 330.0,267.5 C332.1,270.6 332.1,273.8 335.0,276.0 C337.9,278.2 343.8,280.5 347.5,281.0 C351.2,281.5 355.0,280.8 357.5,279.0 C360.0,277.2 360.0,272.5 362.5,270.0 C365.0,267.5 368.3,265.5 372.5,264.0 C376.7,262.5 383.8,261.5 387.5,261.0 C391.2,260.5 391.2,260.2 395.0,261.0 C398.8,261.8 405.4,263.5 410.0,266.0 C414.6,268.5 419.0,272.4 422.5,276.0 C426.0,279.6 428.5,283.8 431.0,287.5 C433.5,291.2 435.6,294.8 437.5,298.0 C439.4,301.2 441.3,302.3 442.4,306.5 C443.5,310.7 443.9,317.8 444.0,323.0 C444.1,328.2 444.1,334.0 443.3,337.7 C442.5,341.4 441.1,343.2 439.0,345.0 C436.9,346.8 433.7,348.5 431.0,348.4 C428.3,348.3 424.9,346.1 422.7,344.3 C420.5,342.5 419.3,339.2 417.7,337.7 C416.1,336.2 414.6,335.3 412.8,335.3 C411.0,335.3 408.4,336.2 407.0,337.7 C405.6,339.2 404.7,342.1 404.6,344.3 C404.5,346.5 405.4,348.6 406.2,351.0 C407.0,353.4 408.3,355.4 409.5,359.0 C410.7,362.6 412.8,368.2 413.6,372.3 C414.4,376.4 415.1,380.5 414.4,383.8 C413.7,387.1 411.6,390.1 409.5,392.0 C407.4,393.9 404.2,393.2 401.8,395.0 C399.4,396.8 396.6,399.5 395.2,403.0 C393.8,406.5 394.7,412.1 393.6,416.2 C392.5,420.3 390.8,424.4 388.6,427.7 C386.4,431.0 382.6,433.0 380.4,436.0 C378.2,439.0 376.1,443.1 375.5,445.8 C374.9,448.5 375.6,450.8 377.0,452.4 C378.4,454.0 381.2,454.9 383.7,455.7 C386.2,456.5 390.2,456.3 392.0,457.4 C393.8,458.5 394.7,460.7 394.4,462.3 C394.1,463.9 392.4,465.8 390.3,467.2 C388.2,468.6 384.2,469.4 382.0,470.5 C379.8,471.6 379.2,472.6 377.0,473.8 C374.8,475.1 370.9,477.3 369.0,478.0 C367.1,478.7 367.0,478.7 365.6,478.0 C364.2,477.3 362.4,476.1 360.7,473.8 C359.0,471.5 356.9,467.6 355.7,464.0 C354.4,460.4 354.3,455.7 353.2,452.4 C352.1,449.1 351.3,446.7 349.0,444.2 C346.7,441.7 342.5,439.3 339.3,437.6 C336.1,435.9 332.6,433.9 330.0,434.0 C327.4,434.1 328.0,439.3 324.0,438.0 C320.0,436.7 308.5,429.5 306.0,426.0 C303.5,422.5 309.2,420.3 309.0,417.0 C308.8,413.7 306.2,409.5 304.7,406.3 C303.2,403.1 302.8,400.1 299.8,398.0 C296.8,395.9 289.7,394.2 286.6,394.0 C283.5,393.8 283.8,398.3 281.0,397.0 C278.2,395.7 271.4,388.8 270.0,386.0 C268.6,383.2 272.9,383.1 272.5,380.0 C272.1,376.9 270.0,371.0 267.5,367.5 C265.0,364.0 260.4,361.1 257.5,359.0 C254.6,356.9 252.4,355.2 250.0,355.0 C247.6,354.8 243.7,360.5 243.0,358.0 C242.3,355.5 248.2,344.7 246.0,340.0 C243.8,335.3 236.8,334.7 230.0,330.0 C223.2,325.3 209.2,318.7 205.0,312.0 C200.8,305.3 212.5,300.3 205.0,290.0 C197.5,279.7 168.2,258.3 160.0,250.0 C151.8,241.7 155.0,242.5 156.0,240.0 Z" fill="#e60000" />
<path d="M554.0,417.5 C554.6,414.2 555.2,411.7 557.5,410.0 C559.8,408.3 564.6,406.8 567.5,407.5 C570.4,408.2 572.5,413.6 575.0,414.0 C577.5,414.4 580.2,411.7 582.5,410.0 C584.8,408.3 586.5,405.5 589.0,404.0 C591.5,402.5 594.7,400.8 597.5,401.0 C600.3,401.2 604.3,402.7 606.0,405.0 C607.7,407.3 608.3,412.1 607.5,415.0 C606.7,417.9 602.2,420.0 601.0,422.5 C599.8,425.0 598.9,427.8 600.0,430.0 C601.1,432.2 604.6,435.6 607.5,436.0 C610.4,436.4 615.0,434.3 617.5,432.5 C620.0,430.7 620.8,426.7 622.5,425.0 C624.2,423.3 624.6,423.0 627.5,422.5 C630.4,422.0 637.9,408.2 640.0,422.0 C642.1,435.8 641.7,491.7 640.0,505.0 C638.3,518.3 633.8,504.5 630.0,502.0 C626.2,499.5 621.7,493.7 617.5,490.0 C613.3,486.3 608.6,483.3 605.0,480.0 C601.4,476.7 597.5,472.1 596.0,470.0 C594.5,467.9 595.3,469.2 596.0,467.5 C596.7,465.8 599.5,463.3 600.0,460.0 C600.5,456.7 600.8,449.6 599.0,447.5 C597.2,445.4 591.8,447.1 589.0,447.5 C586.2,447.9 585.7,450.2 582.5,450.0 C579.3,449.8 573.6,447.7 570.0,446.0 C566.4,444.3 563.7,442.7 561.0,440.0 C558.3,437.3 555.2,433.8 554.0,430.0 C552.8,426.2 553.4,420.8 554.0,417.5 Z" fill="#e60000" />
<path d="M515.0,500.0 C515.5,497.1 516.5,492.5 519.0,490.0 C521.5,487.5 525.7,485.7 530.0,485.0 C534.3,484.3 540.4,484.5 545.0,486.0 C549.6,487.5 554.2,491.8 557.5,494.0 C560.8,496.2 563.9,500.5 565.0,499.0 C566.1,497.5 563.8,489.0 564.0,485.0 C564.2,481.0 564.2,477.5 566.0,475.0 C567.8,472.5 571.4,470.7 575.0,470.0 C578.6,469.3 583.3,470.3 587.5,471.0 C591.7,471.7 594.6,471.2 600.0,474.0 C605.4,476.8 613.3,482.8 620.0,488.0 C626.7,493.2 636.7,500.2 640.0,505.0 C643.3,509.8 641.0,515.2 640.0,517.0 C639.0,518.8 635.7,514.7 634.0,516.0 C632.3,517.3 630.5,521.4 630.0,525.0 C629.5,528.6 631.4,533.8 631.0,537.5 C630.6,541.2 627.2,545.2 627.5,547.5 C627.8,549.8 630.2,549.9 632.5,551.0 C634.8,552.1 638.9,552.5 641.0,554.0 C643.1,555.5 645.2,558.0 645.0,560.0 C644.8,562.0 641.8,564.5 640.0,566.0 C638.2,567.5 635.7,567.3 634.0,569.0 C632.3,570.7 631.9,574.0 630.0,576.0 C628.1,578.0 625.0,580.3 622.5,581.0 C620.0,581.7 617.5,580.0 615.0,580.0 C612.5,580.0 610.0,581.7 607.5,581.0 C605.0,580.3 602.9,577.4 600.0,576.0 C597.1,574.6 593.3,572.5 590.0,572.5 C586.7,572.5 582.9,574.1 580.0,576.0 C577.1,577.9 575.4,582.5 572.5,584.0 C569.6,585.5 565.2,585.7 562.5,585.0 C559.8,584.3 557.4,582.1 556.0,580.0 C554.6,577.9 555.8,574.6 554.0,572.5 C552.2,570.4 547.8,569.2 545.0,567.5 C542.2,565.8 539.2,564.6 537.5,562.5 C535.8,560.4 536.7,556.7 535.0,555.0 C533.3,553.3 530.8,553.3 527.5,552.5 C524.2,551.7 518.3,551.7 515.0,550.0 C511.7,548.3 509.0,545.4 507.5,542.5 C506.0,539.6 505.2,535.8 506.0,532.5 C506.8,529.2 510.2,525.0 512.5,522.5 C514.8,520.0 519.4,520.0 520.0,517.5 C520.6,515.0 516.8,510.4 516.0,507.5 C515.2,504.6 514.5,502.9 515.0,500.0 Z" fill="#e60000" />
<path d="M465.0,583.0 C464.6,580.5 467.5,577.2 470.0,574.5 C472.5,571.8 477.1,569.9 480.0,567.0 C482.9,564.1 485.0,557.8 487.5,557.0 C490.0,556.2 492.9,559.7 495.0,562.0 C497.1,564.3 497.5,568.5 500.0,571.0 C502.5,573.5 505.8,575.2 510.0,577.0 C514.2,578.8 520.0,581.2 525.0,582.0 C530.0,582.8 536.2,581.0 540.0,582.0 C543.8,583.0 546.7,585.5 547.5,588.0 C548.3,590.5 544.6,595.7 545.0,597.0 C545.4,598.3 548.2,595.6 550.0,596.0 C551.8,596.4 554.8,597.7 556.0,599.5 C557.2,601.3 558.1,604.8 557.5,607.0 C556.9,609.2 555.0,611.5 552.5,613.0 C550.0,614.5 545.4,615.3 542.5,616.0 C539.6,616.7 537.9,616.0 535.0,617.0 C532.1,618.0 528.8,621.0 525.0,622.0 C521.2,623.0 516.2,623.7 512.5,623.0 C508.8,622.3 505.0,620.2 502.5,618.0 C500.0,615.8 499.2,612.6 497.5,609.5 C495.8,606.4 495.0,602.4 492.5,599.5 C490.0,596.6 485.8,593.7 482.5,592.0 C479.2,590.3 475.4,591.0 472.5,589.5 C469.6,588.0 465.4,585.5 465.0,583.0 Z" fill="#e60000" />
<path d="M444.0,494.0 C444.7,493.5 446.9,495.7 450.0,496.0 C453.1,496.3 458.8,495.5 462.5,496.0 C466.2,496.5 470.4,497.3 472.5,499.0 C474.6,500.7 475.4,503.5 475.0,506.0 C474.6,508.5 472.1,512.3 470.0,514.0 C467.9,515.7 464.6,516.2 462.5,516.0 C460.4,515.8 459.2,514.5 457.5,512.5 C455.8,510.5 454.4,506.2 452.5,504.0 C450.6,501.8 447.4,500.7 446.0,499.0 C444.6,497.3 443.3,494.5 444.0,494.0 Z" fill="#e60000" />
<path d="M625.0,692.0 C625.8,688.1 627.9,687.2 630.0,686.0 C632.1,684.8 634.8,683.7 637.5,684.5 C640.2,685.3 644.1,688.1 646.0,691.0 C647.9,693.9 649.6,698.9 649.0,702.0 C648.4,705.1 644.0,705.7 642.5,709.5 C641.0,713.3 642.5,722.9 640.0,725.0 C637.5,727.1 630.0,724.6 627.5,722.0 C625.0,719.4 625.4,714.5 625.0,709.5 C624.6,704.5 624.2,695.9 625.0,692.0 Z" fill="#e60000" />
<path d="M717.5,667.0 C718.4,664.8 720.0,661.8 722.5,661.0 C725.0,660.2 729.2,660.2 732.5,662.0 C735.8,663.8 739.8,668.5 742.5,672.0 C745.2,675.5 748.2,679.8 749.0,683.0 C749.8,686.2 749.0,689.2 747.5,691.0 C746.0,692.8 742.9,694.2 740.0,694.0 C737.1,693.8 733.3,691.5 730.0,689.5 C726.7,687.5 722.2,684.5 720.0,682.0 C717.8,679.5 717.4,677.0 717.0,674.5 C716.6,672.0 716.6,669.2 717.5,667.0 Z" fill="#e60000" />
<path d="M204.0,250.0 C204.6,246.7 205.2,244.5 207.5,242.5 C209.8,240.5 213.8,238.6 217.5,238.0 C221.2,237.4 226.1,237.8 230.0,239.0 C233.9,240.2 237.8,242.3 241.0,245.0 C244.2,247.7 247.1,251.7 249.0,255.0 C250.9,258.3 250.7,261.7 252.5,265.0 C254.3,268.3 257.1,273.0 260.0,275.0 C262.9,277.0 266.7,276.7 270.0,277.0 C273.3,277.3 276.2,277.2 280.0,277.0 C283.8,276.8 288.3,277.0 292.5,276.0 C296.7,275.0 301.2,272.0 305.0,271.0 C308.8,270.0 311.8,269.2 315.0,270.0 C318.2,270.8 321.9,273.1 324.0,276.0 C326.1,278.9 326.7,283.1 327.5,287.5 C328.3,291.9 328.8,296.8 329.0,302.5 C329.2,308.2 329.0,316.2 329.0,322.0 C329.0,327.8 328.8,332.4 329.0,337.5 C329.2,342.6 329.0,348.8 330.0,352.5 C331.0,356.2 332.7,358.6 335.0,360.0 C337.3,361.4 341.1,361.8 344.0,361.0 C346.9,360.2 349.0,356.7 352.5,355.0 C356.0,353.3 361.2,351.2 365.0,351.0 C368.8,350.8 372.9,352.1 375.0,354.0 C377.1,355.9 377.7,359.4 377.5,362.5 C377.3,365.6 374.4,368.8 374.0,372.5 C373.6,376.2 374.8,380.4 375.0,385.0 C375.2,389.6 376.0,395.4 375.5,399.8 C375.0,404.2 373.6,407.5 372.2,411.3 C370.8,415.1 369.4,419.8 367.2,422.8 C365.0,425.8 362.0,428.0 359.0,429.4 C356.0,430.8 353.2,431.0 349.1,431.0 C345.0,431.0 339.0,430.8 334.3,429.4 C329.6,428.0 324.8,426.1 321.2,422.8 C317.6,419.5 314.6,413.9 312.9,409.6 C311.2,405.3 311.1,401.1 311.0,397.0 C310.9,392.9 311.8,388.7 312.5,385.0 C313.2,381.3 315.4,377.7 315.0,375.0 C314.6,372.3 312.9,370.0 310.0,369.0 C307.1,368.0 301.7,369.5 297.5,369.0 C293.3,368.5 288.8,367.9 285.0,366.0 C281.2,364.1 277.9,360.2 275.0,357.5 C272.1,354.8 269.8,351.9 267.5,350.0 C265.2,348.1 261.4,347.5 261.0,346.0 C260.6,344.5 264.8,342.8 265.0,341.0 C265.2,339.2 265.0,337.2 262.5,335.0 C260.0,332.8 254.2,330.0 250.0,327.5 C245.8,325.0 240.4,322.9 237.5,320.0 C234.6,317.1 233.3,313.3 232.5,310.0 C231.7,306.7 233.3,302.9 232.5,300.0 C231.7,297.1 229.4,295.4 227.5,292.5 C225.6,289.6 223.9,285.4 221.0,282.5 C218.1,279.6 212.8,278.3 210.0,275.0 C207.2,271.7 205.0,266.7 204.0,262.5 C203.0,258.3 203.4,253.3 204.0,250.0 Z" fill="#730000" />
<path d="M292.5,208.8 C293.3,206.7 294.6,204.2 297.5,202.5 C300.4,200.8 305.4,199.3 310.0,198.8 C314.6,198.2 321.0,198.1 325.0,199.0 C329.0,199.9 331.5,202.3 334.0,204.0 C336.5,205.7 337.3,208.1 340.0,209.0 C342.7,209.9 347.1,208.7 350.0,209.5 C352.9,210.3 356.0,212.2 357.5,214.0 C359.0,215.8 359.6,217.8 359.0,220.0 C358.4,222.2 356.5,225.2 354.0,227.5 C351.5,229.8 348.0,232.1 344.0,234.0 C340.0,235.9 334.0,238.4 330.0,239.0 C326.0,239.6 323.8,238.6 320.0,237.5 C316.2,236.4 311.2,234.8 307.5,232.5 C303.8,230.2 300.0,226.9 297.5,224.0 C295.0,221.1 293.3,217.5 292.5,215.0 C291.7,212.5 291.7,210.8 292.5,208.8 Z" fill="#730000" />
<path d="M365.0,295.0 C365.8,291.7 367.5,285.8 370.0,282.5 C372.5,279.2 375.8,276.8 380.0,275.0 C384.2,273.2 390.7,272.2 395.0,272.0 C399.3,271.8 402.5,271.4 406.0,274.0 C409.5,276.6 414.5,283.8 416.0,287.5 C417.5,291.2 416.4,293.9 415.0,296.0 C413.6,298.1 410.8,299.2 407.5,300.0 C404.2,300.8 398.8,300.0 395.0,301.0 C391.2,302.0 387.5,304.5 385.0,306.0 C382.5,307.5 382.5,309.3 380.0,310.0 C377.5,310.7 372.5,311.2 370.0,310.0 C367.5,308.8 365.8,305.0 365.0,302.5 C364.2,300.0 364.2,298.3 365.0,295.0 Z" fill="#730000" />
<path d="M525.0,502.5 C525.0,499.0 525.0,495.9 527.5,494.0 C530.0,492.1 535.8,490.7 540.0,491.0 C544.2,491.3 548.8,493.8 552.5,496.0 C556.2,498.2 560.0,504.3 562.5,504.0 C565.0,503.7 565.4,496.8 567.5,494.0 C569.6,491.2 571.7,488.8 575.0,487.5 C578.3,486.2 583.8,486.0 587.5,486.0 C591.2,486.0 595.6,486.2 597.5,487.5 C599.4,488.8 597.3,492.1 599.0,494.0 C600.7,495.9 605.8,495.9 607.5,499.0 C609.2,502.1 608.6,508.2 609.0,512.5 C609.4,516.8 608.3,521.9 610.0,525.0 C611.7,528.1 616.7,528.5 619.0,531.0 C621.3,533.5 623.4,536.8 624.0,540.0 C624.6,543.2 624.0,547.1 622.5,550.0 C621.0,552.9 617.5,555.8 615.0,557.5 C612.5,559.2 610.0,559.6 607.5,560.0 C605.0,560.4 603.3,560.0 600.0,560.0 C596.7,560.0 591.2,559.2 587.5,560.0 C583.8,560.8 580.8,563.2 577.5,565.0 C574.2,566.8 570.8,570.0 567.5,571.0 C564.2,572.0 560.0,572.0 557.5,571.0 C555.0,570.0 553.3,567.7 552.5,565.0 C551.7,562.3 552.9,557.9 552.5,555.0 C552.1,552.1 552.1,549.3 550.0,547.5 C547.9,545.7 542.9,546.1 540.0,544.0 C537.1,541.9 533.3,538.2 532.5,535.0 C531.7,531.8 535.8,528.3 535.0,525.0 C534.2,521.7 529.2,518.8 527.5,515.0 C525.8,511.2 525.0,506.0 525.0,502.5 Z" fill="#730000" />
<g filter="url(#relief)">
<path d="M567.5,317.5 C565.0,317.7 559.6,319.2 555.0,320.0 C550.4,320.8 545.0,322.1 540.0,322.5 C535.0,322.9 529.6,322.8 525.0,322.5 C520.4,322.2 516.2,320.8 512.5,321.0 C508.8,321.2 505.0,322.1 502.5,324.0 C500.0,325.9 498.9,328.6 497.5,332.5 C496.1,336.4 496.1,343.9 494.0,347.5 C491.9,351.1 488.6,352.6 485.0,354.0 C481.4,355.4 477.1,355.8 472.5,356.0 C467.9,356.2 461.4,355.0 457.5,355.5 C453.6,356.0 450.4,357.0 449.0,359.0 C447.6,361.0 448.2,364.0 449.0,367.5 C449.8,371.0 452.2,376.2 454.0,380.0 C455.8,383.8 457.8,387.5 460.0,390.0 C462.2,392.5 463.8,394.0 467.5,395.0 C471.2,396.0 478.3,395.2 482.5,396.0 C486.7,396.8 490.2,398.3 492.5,400.0 C494.8,401.7 496.0,403.7 496.0,406.0 C496.0,408.3 495.2,411.5 492.5,414.0 C489.8,416.5 483.8,418.5 480.0,421.0 C476.2,423.5 472.5,425.8 470.0,429.0 C467.5,432.2 466.0,436.5 465.0,440.0 C464.0,443.5 463.8,446.8 464.0,450.0 C464.2,453.2 464.2,456.5 466.0,459.0 C467.8,461.5 471.0,463.9 475.0,465.0 C479.0,466.1 484.2,465.7 490.0,465.5 C495.8,465.3 503.3,464.6 510.0,464.0 C516.7,463.4 525.2,462.5 530.0,462.0 C534.8,461.5 537.8,464.7 539.0,461.0 C540.2,457.3 538.0,447.2 537.5,440.0 C537.0,432.8 536.0,424.2 536.0,417.5 C536.0,410.8 537.7,405.4 537.5,400.0 C537.3,394.6 535.0,388.8 535.0,385.0 C535.0,381.2 535.4,379.2 537.5,377.5 C539.6,375.8 544.6,376.2 547.5,375.0 C550.4,373.8 553.9,372.1 555.0,370.0 C556.1,367.9 552.8,364.8 554.0,362.5 C555.2,360.2 559.0,357.1 562.5,356.0 C566.0,354.9 571.7,354.9 575.0,356.0 C578.3,357.1 580.0,359.8 582.5,362.5 C585.0,365.2 587.1,369.5 590.0,372.0 C592.9,374.5 596.2,375.8 600.0,377.5 C603.8,379.2 608.3,380.3 612.5,382.0 C616.7,383.7 621.6,385.8 625.0,387.5 C628.4,389.2 627.2,391.2 633.0,392.0 C638.8,392.8 655.5,403.8 660.0,392.0 C664.5,380.2 670.0,333.0 660.0,321.0 C650.0,309.0 615.0,320.4 600.0,320.0 C585.0,319.6 575.4,319.2 570.0,318.8 C564.6,318.4 570.0,317.3 567.5,317.5 Z" fill="#f4f4f4" />
<path d="M374.0,543.0 C379.4,543.8 383.8,545.5 387.5,547.5 C391.2,549.5 393.9,552.2 396.0,555.0 C398.1,557.8 401.0,562.4 400.0,564.0 C399.0,565.6 393.3,564.3 390.0,564.5 C386.7,564.7 383.8,564.7 380.0,565.0 C376.2,565.3 371.7,566.3 367.5,566.5 C363.3,566.7 357.1,569.9 355.0,566.0 C352.9,562.1 351.8,546.8 355.0,543.0 C358.2,539.2 368.6,542.2 374.0,543.0 Z" fill="#f4f4f4" />
<path d="M404.0,606.0 C408.2,603.8 415.0,602.7 420.0,602.0 C425.0,601.3 431.5,599.9 434.0,602.0 C436.5,604.1 435.7,611.0 435.0,614.5 C434.3,618.0 430.2,620.2 430.0,623.0 C429.8,625.8 430.7,629.3 434.0,631.0 C437.3,632.7 444.0,632.4 450.0,633.0 C456.0,633.6 463.8,634.0 470.0,634.5 C476.2,635.0 484.0,634.9 487.5,636.0 C491.0,637.1 491.8,639.6 491.0,641.0 C490.2,642.4 483.9,642.2 482.5,644.5 C481.1,646.8 486.2,652.4 482.5,655.0 C478.8,657.6 470.4,662.5 460.0,660.0 C449.6,657.5 430.8,647.5 420.0,640.0 C409.2,632.5 397.7,620.7 395.0,615.0 C392.3,609.3 399.8,608.2 404.0,606.0 Z" fill="#f4f4f4" />
<path d="M484.0,646.0 C484.8,645.2 492.8,648.5 497.5,649.5 C502.2,650.5 507.5,652.6 512.5,652.0 C517.5,651.4 522.9,647.8 527.5,646.0 C532.1,644.2 536.2,641.7 540.0,641.0 C543.8,640.3 547.7,640.6 550.0,642.0 C552.3,643.4 554.0,646.6 554.0,649.5 C554.0,652.4 551.9,656.8 550.0,659.5 C548.1,662.2 545.8,665.2 542.5,666.0 C539.2,666.8 534.2,665.2 530.0,664.5 C525.8,663.8 521.2,662.0 517.5,662.0 C513.8,662.0 510.4,664.7 507.5,664.5 C504.6,664.3 502.5,662.7 500.0,661.0 C497.5,659.3 495.2,657.0 492.5,654.5 C489.8,652.0 483.2,646.8 484.0,646.0 Z" fill="#f4f4f4" />
<path d="M657.5,597.0 C657.8,593.2 659.3,589.1 661.0,587.0 C662.7,584.9 665.2,584.3 667.5,584.5 C669.8,584.7 673.3,585.9 675.0,588.0 C676.7,590.1 678.3,594.7 677.5,597.0 C676.7,599.3 672.1,600.3 670.0,602.0 C667.9,603.7 665.7,604.5 665.0,607.0 C664.3,609.5 664.8,614.1 666.0,617.0 C667.2,619.9 670.2,622.4 672.5,624.5 C674.8,626.6 677.5,626.6 680.0,629.5 C682.5,632.4 685.4,637.8 687.5,642.0 C689.6,646.2 691.9,649.9 692.5,654.5 C693.1,659.1 692.2,665.9 691.0,669.5 C689.8,673.1 688.1,674.6 685.0,676.0 C681.9,677.4 676.7,678.2 672.5,678.0 C668.3,677.8 662.8,676.8 660.0,674.5 C657.2,672.2 656.4,668.2 656.0,664.5 C655.6,660.8 656.8,655.8 657.5,652.0 C658.2,648.2 658.9,645.3 660.0,642.0 C661.1,638.7 664.0,635.3 664.0,632.0 C664.0,628.7 660.8,625.8 660.0,622.0 C659.2,618.2 659.4,613.7 659.0,609.5 C658.6,605.3 657.2,600.8 657.5,597.0 Z" fill="#f4f4f4" />
<path d="M920.5,572.5 C921.8,567.5 926.8,563.8 930.5,560.0 C934.2,556.2 939.2,552.1 943.0,550.0 C946.8,547.9 950.1,546.2 953.0,547.5 C955.9,548.8 958.0,554.2 960.5,557.5 C963.0,560.8 963.9,565.8 968.0,567.5 C972.1,569.2 982.2,557.9 985.0,567.5 C987.8,577.1 988.2,615.9 985.0,625.0 C981.8,634.1 969.2,624.1 965.5,622.0 C961.8,619.9 964.7,614.3 963.0,612.5 C961.3,610.7 958.0,611.0 955.5,611.0 C953.0,611.0 950.5,609.8 948.0,612.5 C945.5,615.2 943.0,624.2 940.5,627.5 C938.0,630.8 935.1,630.8 933.0,632.5 C930.9,634.2 929.2,641.2 928.0,637.5 C926.8,633.8 926.3,617.9 925.5,610.0 C924.7,602.1 923.8,596.2 923.0,590.0 C922.2,583.8 919.2,577.5 920.5,572.5 Z" fill="#f4f4f4" />
<path d="M920.5,556.0 C920.8,551.6 920.9,549.8 923.0,547.5 C925.1,545.2 930.1,544.8 933.0,542.5 C935.9,540.2 938.0,536.5 940.5,534.0 C943.0,531.5 945.5,528.0 948.0,527.5 C950.5,527.0 954.2,528.9 955.5,531.0 C956.8,533.1 955.9,537.0 955.5,540.0 C955.1,543.0 955.1,547.0 953.0,549.0 C950.9,551.0 946.8,549.8 943.0,552.0 C939.2,554.2 934.2,558.3 930.5,562.0 C926.8,565.7 922.7,575.0 921.0,574.0 C919.3,573.0 920.2,560.4 920.5,556.0 Z" fill="#f4f4f4" />
<path d="M920.0,576.0 C917.8,575.2 913.3,582.2 910.5,585.0 C907.7,587.8 905.9,590.0 903.0,592.5 C900.1,595.0 897.2,597.9 893.0,600.0 C888.8,602.1 883.0,603.3 878.0,605.0 C873.0,606.7 867.2,607.9 863.0,610.0 C858.8,612.1 855.1,614.6 853.0,617.5 C850.9,620.4 850.1,625.0 850.5,627.5 C850.9,630.0 853.4,632.1 855.5,632.5 C857.6,632.9 860.9,631.4 863.0,630.0 C865.1,628.6 865.5,625.2 868.0,624.0 C870.5,622.8 874.7,621.7 878.0,622.5 C881.3,623.3 885.1,626.5 888.0,629.0 C890.9,631.5 888.5,636.1 895.5,637.5 C902.5,638.9 924.8,642.1 930.0,637.5 C935.2,632.9 928.0,617.9 927.0,610.0 C926.0,602.1 925.2,595.7 924.0,590.0 C922.8,584.3 922.2,576.8 920.0,576.0 Z" fill="#f4f4f4" />
<path d="M973.0,501.0 C973.0,499.3 979.8,495.0 983.0,494.0 C986.2,493.0 989.2,493.2 992.0,495.0 C994.8,496.8 998.7,501.5 1000.0,505.0 C1001.3,508.5 1001.3,513.9 1000.0,516.0 C998.7,518.1 994.0,518.3 992.0,517.5 C990.0,516.7 989.5,513.2 988.0,511.0 C986.5,508.8 985.5,505.7 983.0,504.0 C980.5,502.3 973.0,502.7 973.0,501.0 Z" fill="#f4f4f4" />
</g>
<path d="M571.0,347.0 C571.7,345.7 573.5,344.0 575.0,344.0 C576.5,344.0 579.2,345.7 580.0,347.0 C580.8,348.3 580.7,350.8 580.0,352.0 C579.3,353.2 577.5,354.0 576.0,354.0 C574.5,354.0 571.8,353.2 571.0,352.0 C570.2,350.8 570.3,348.3 571.0,347.0 Z" fill="#ffff00" />
<path d="M444.0,412.0 C444.3,410.6 449.0,409.8 452.0,409.5 C455.0,409.2 459.7,409.6 462.0,410.5 C464.3,411.4 466.3,413.8 466.0,415.0 C465.7,416.2 462.7,417.5 460.0,418.0 C457.3,418.5 452.7,419.0 450.0,418.0 C447.3,417.0 443.7,413.4 444.0,412.0 Z" fill="#fdd380" />
<path d="M836.0,651.0 C836.7,649.0 840.7,647.2 842.0,648.0 C843.3,648.8 842.7,653.7 844.0,656.0 C845.3,658.3 849.7,660.5 850.0,662.0 C850.3,663.5 848.0,665.3 846.0,665.0 C844.0,664.7 839.7,662.3 838.0,660.0 C836.3,657.7 835.3,653.0 836.0,651.0 Z" fill="#ffff00" />
</g>
<path d="M123.0,224.0 L126.0,223.0 L130.0,230.0 L134.0,236.0 L136.0,241.0 L133.0,242.0 L129.0,236.0 L125.0,231.0 Z" fill="#bbbbbb" stroke="#000" stroke-width="1"/>
<path d="M63.0,270.0 L65.0,263.0 L68.0,260.0 L69.5,263.0 L68.0,269.0 L66.0,272.0 Z" fill="#bbbbbb" stroke="#000" stroke-width="1"/>
<path d="M992.0,541.0 L994.0,535.0 L999.0,531.0 L1000.5,533.0 L998.0,539.0 L994.0,543.0 Z" fill="#bbbbbb" stroke="#000" stroke-width="1"/>
<path d="M157.0,240.0 L163.0,239.0 L164.0,246.0 L162.0,253.0 L159.0,255.0 L155.0,251.0 L156.0,245.0 Z" fill="#f5e14a" stroke="#000" stroke-width="1"/>
<path d="M101.0,276.0 L144.5,279.5" fill="none" stroke="#0c0c06" stroke-width="1.35" stroke-opacity="0.92" stroke-linejoin="round"/>
<path d="M94.5,114.0 L87.5,121.0 L88.0,135.0 L90.0,140.0" fill="none" stroke="#0c0c06" stroke-width="1.35" stroke-opacity="0.92" stroke-linejoin="round"/>
<path d="M275.0,168.8 L277.5,180.0 L272.5,187.5 L278.8,207.5 L280.0,225.0 L275.0,245.0 L280.0,265.0 L280.0,276.0 L262.5,277.5 L266.0,295.0 L272.5,305.0 L277.5,322.5 L286.0,324.0 L292.5,332.5 L295.0,347.5 L310.0,357.5 L325.0,372.5 L335.0,375.0 L342.5,360.0 L350.0,336.0 L355.0,334.0 L372.5,341.0 L392.5,346.0 L405.0,349.0 L410.0,337.5 L415.0,335.0 L430.0,337.5 L440.0,341.0" fill="none" stroke="#0c0c06" stroke-width="1.35" stroke-opacity="0.92" stroke-linejoin="round"/>
<path d="M277.5,322.5 L267.5,342.5 L260.0,346.0" fill="none" stroke="#0c0c06" stroke-width="1.35" stroke-opacity="0.92" stroke-linejoin="round"/>
<path d="M320.0,377.5 L322.5,395.0 L332.5,410.0 L345.0,422.5 L357.4,434.3 L358.2,445.8 L364.0,454.0 L368.9,464.0 L375.5,467.2 L372.2,477.1 L369.7,485.3" fill="none" stroke="#0c0c06" stroke-width="1.35" stroke-opacity="0.92" stroke-linejoin="round"/>
<path d="M375.5,467.2 L385.3,472.2 L388.6,478.8 L385.3,483.7 L393.6,485.3 L401.8,492.0 L410.0,493.6" fill="none" stroke="#0c0c06" stroke-width="1.35" stroke-opacity="0.92" stroke-linejoin="round"/>
<path d="M439.7,422.8 L428.1,432.7 L426.5,445.8 L419.9,454.0 L415.0,472.2 L416.6,480.4 L410.0,485.3 L411.7,493.6" fill="none" stroke="#0c0c06" stroke-width="1.35" stroke-opacity="0.92" stroke-linejoin="round"/>
<path d="M446.0,257.5 L440.0,267.5 L434.0,279.0 L425.0,295.0 L426.0,300.0 L427.5,315.0 L430.0,330.0 L440.0,341.0 L444.0,352.5 L445.0,362.5 L442.5,375.0 L439.0,382.5 L442.5,387.5 L439.0,391.0 L445.0,400.0 L452.5,407.5 L460.0,409.0 L465.0,400.0 L467.5,396.0" fill="none" stroke="#0c0c06" stroke-width="1.35" stroke-opacity="0.92" stroke-linejoin="round"/>
<path d="M465.0,400.0 L469.0,410.0 L471.0,420.0 L460.0,422.5 L440.0,422.5" fill="none" stroke="#0c0c06" stroke-width="1.35" stroke-opacity="0.92" stroke-linejoin="round"/>
<path d="M532.5,322.5 L534.0,332.5 L527.5,340.0 L512.5,350.0 L520.0,362.5 L527.5,375.0 L537.5,386.0 L542.5,390.0 L537.5,394.0 L527.5,395.0 L525.0,405.0 L532.5,412.5 L535.0,425.0 L536.0,440.0 L537.5,460.0" fill="none" stroke="#0c0c06" stroke-width="1.35" stroke-opacity="0.92" stroke-linejoin="round"/>
<path d="M496.0,407.5 L505.0,410.0 L515.0,407.5 L522.5,415.0 L527.5,420.0 L520.0,425.0 L515.0,430.0 L512.5,442.5 L505.0,447.5 L490.0,455.0 L480.0,457.5 L477.5,464.0" fill="none" stroke="#0c0c06" stroke-width="1.35" stroke-opacity="0.92" stroke-linejoin="round"/>
<path d="M527.5,316.0 L537.5,310.0 L542.5,301.0 L550.0,304.0 L555.0,307.5 L565.0,307.5" fill="none" stroke="#0c0c06" stroke-width="1.35" stroke-opacity="0.92" stroke-linejoin="round"/>
<path d="M560.0,320.0 L562.5,332.5 L570.0,340.0 L571.0,347.5 L577.5,354.0 L580.0,361.0 L597.0,362.5 L597.0,380.0 L603.0,382.0 L590.0,392.0 L577.5,400.0 L576.0,407.5 L562.5,412.5 L561.0,422.5 L567.5,440.0 L555.0,447.5 L550.0,460.0" fill="none" stroke="#0c0c06" stroke-width="1.35" stroke-opacity="0.92" stroke-linejoin="round"/>
<path d="M410.0,489.0 L412.5,481.0 L420.0,480.0 L427.5,481.0 L426.0,490.0 L422.5,499.0 L415.0,495.0 L409.0,500.0 L410.0,507.5 L417.5,511.0 L424.0,520.0 L430.0,525.0 L429.0,534.0 L412.5,536.0 L410.0,550.0 L407.5,556.0 L402.5,547.5 L392.5,542.5 L380.0,545.0" fill="none" stroke="#0c0c06" stroke-width="1.35" stroke-opacity="0.92" stroke-linejoin="round"/>
<path d="M430.0,525.0 L434.0,515.0 L445.0,507.5 L452.5,506.0 L460.0,515.0 L467.5,520.0 L477.5,520.0 L490.0,512.5 L492.5,507.5 L485.0,500.0 L477.5,492.5 L465.0,497.5 L447.5,494.0 L442.5,494.0 L435.0,487.5 L432.5,500.0 L426.0,490.0" fill="none" stroke="#0c0c06" stroke-width="1.35" stroke-opacity="0.92" stroke-linejoin="round"/>
<path d="M430.0,525.0 L440.0,539.0 L447.5,540.0 L452.5,535.0 L465.0,527.5 L462.5,521.0" fill="none" stroke="#0c0c06" stroke-width="1.35" stroke-opacity="0.92" stroke-linejoin="round"/>
<path d="M492.5,507.5 L502.5,512.5 L510.0,502.5 L510.0,487.5 L505.0,481.0 L500.0,486.0 L492.5,490.0 L485.0,481.0 L480.0,475.0 L479.0,467.5" fill="none" stroke="#0c0c06" stroke-width="1.35" stroke-opacity="0.92" stroke-linejoin="round"/>
<path d="M502.5,512.5 L517.5,514.0" fill="none" stroke="#0c0c06" stroke-width="1.35" stroke-opacity="0.92" stroke-linejoin="round"/>
<path d="M502.5,512.5 L502.5,522.5 L495.0,537.5 L485.0,550.0 L490.0,557.5 L480.0,567.5 L465.0,570.0 L452.5,575.0 L455.0,582.5 L460.0,587.5 L462.5,596.0 L467.5,597.5 L465.0,604.5" fill="none" stroke="#0c0c06" stroke-width="1.35" stroke-opacity="0.92" stroke-linejoin="round"/>
<path d="M490.0,557.5 L500.0,570.0 L507.5,567.5 L510.0,576.0 L522.5,579.0 L527.5,580.0 L540.0,577.5 L545.0,570.0 L550.0,575.0 L550.0,587.5 L545.0,600.0 L537.5,612.5 L530.0,622.0" fill="none" stroke="#0c0c06" stroke-width="1.35" stroke-opacity="0.92" stroke-linejoin="round"/>
<path d="M500.0,482.5 L507.5,484.0 L510.0,492.5 L505.0,500.0 L507.5,507.5" fill="none" stroke="#0c0c06" stroke-width="1.35" stroke-opacity="0.92" stroke-linejoin="round"/>
<path d="M549.0,460.0 L552.5,465.0 L550.0,477.5 L560.0,481.0 L567.5,484.0" fill="none" stroke="#0c0c06" stroke-width="1.35" stroke-opacity="0.92" stroke-linejoin="round"/>
<path d="M572.5,580.0 L582.5,584.0 L587.5,576.0 L597.5,582.5 L607.5,584.0 L617.5,587.5 L625.0,592.5 L635.0,596.0 L645.0,597.5 L642.5,590.0 L649.0,580.0 L650.0,572.5 L642.5,569.0 L635.0,572.5 L630.0,565.0 L632.5,557.5 L625.0,547.5" fill="none" stroke="#0c0c06" stroke-width="1.35" stroke-opacity="0.92" stroke-linejoin="round"/>
<path d="M600.0,590.0 L602.5,600.0 L600.0,612.5 L599.0,622.0 L600.0,632.0 L595.0,639.5" fill="none" stroke="#0c0c06" stroke-width="1.35" stroke-opacity="0.92" stroke-linejoin="round"/>
<path d="M579.0,596.0 L585.0,592.0 L590.0,601.0 L591.0,609.5 L585.0,612.0 L579.0,607.0 L577.5,601.0 L579.0,596.0" fill="none" stroke="#0c0c06" stroke-width="1.35" stroke-opacity="0.92" stroke-linejoin="round"/>
<path d="M400.0,606.0 L415.0,603.0 L417.5,597.0 L430.0,598.0 L435.0,601.0 L436.0,614.5 L445.0,616.0 L452.5,612.0 L457.5,607.0" fill="none" stroke="#0c0c06" stroke-width="1.35" stroke-opacity="0.92" stroke-linejoin="round"/>
<path d="M491.0,629.5 L500.0,632.0 L515.0,631.0 L522.5,633.0 L530.0,632.0 L529.0,622.0 L532.5,619.5 L539.0,622.0 L541.0,629.5 L550.0,628.0 L562.5,627.0 L565.0,623.0 L575.0,629.5 L585.0,634.5 L590.0,642.0 L597.5,637.0 L600.0,624.5" fill="none" stroke="#0c0c06" stroke-width="1.35" stroke-opacity="0.92" stroke-linejoin="round"/>
<path d="M452.5,574.5 L460.0,572.0 L475.0,569.5 L487.5,557.0 L485.0,552.0 L487.5,547.0" fill="none" stroke="#0c0c06" stroke-width="1.35" stroke-opacity="0.92" stroke-linejoin="round"/>
<path d="M452.5,574.5 L454.0,579.5 L462.5,582.0" fill="none" stroke="#0c0c06" stroke-width="1.35" stroke-opacity="0.92" stroke-linejoin="round"/>
<path d="M595.0,647.0 L607.5,651.0 L610.0,659.5 L615.0,672.0 L617.5,679.5 L625.0,684.5 L620.0,694.5 L615.0,697.0 L612.5,707.0 L607.5,709.5" fill="none" stroke="#0c0c06" stroke-width="1.35" stroke-opacity="0.92" stroke-linejoin="round"/>
<path d="M610.0,653.0 L620.0,649.5 L630.0,647.0 L630.0,639.5 L635.0,638.0 L640.0,646.0 L650.0,642.0 L660.0,637.0 L661.0,629.5" fill="none" stroke="#0c0c06" stroke-width="1.35" stroke-opacity="0.92" stroke-linejoin="round"/>
<path d="M600.0,588.0 L610.0,591.0 L622.5,589.5 L632.5,596.0 L644.0,601.0 L650.0,596.0" fill="none" stroke="#0c0c06" stroke-width="1.35" stroke-opacity="0.92" stroke-linejoin="round"/>
<path d="M646.0,607.0 L645.0,619.5 L654.0,627.0 L661.0,629.5 L667.5,624.5 L675.0,627.0 L685.0,639.5 L697.5,641.0 L700.0,652.0 L704.0,662.0 L717.5,654.5 L722.5,662.0 L732.5,673.0 L770.0,673.0" fill="none" stroke="#0c0c06" stroke-width="1.35" stroke-opacity="0.92" stroke-linejoin="round"/>
<path d="M770.0,673.0 L765.0,682.0 L760.0,697.0 L762.5,709.5" fill="none" stroke="#0c0c06" stroke-width="1.35" stroke-opacity="0.92" stroke-linejoin="round"/>
<path d="M757.5,636.0 L760.0,647.0 L772.5,654.5 L775.0,664.5 L770.0,673.0" fill="none" stroke="#0c0c06" stroke-width="1.35" stroke-opacity="0.92" stroke-linejoin="round"/>
<path d="M775.0,664.5 L780.0,657.0 L784.0,644.5 L792.5,643.0 L797.5,654.5 L805.0,663.0 L815.0,654.5 L822.5,647.0 L830.0,642.5 L835.5,642.5 L839.0,652.5 L842.0,657.5 L851.3,663.0" fill="none" stroke="#0c0c06" stroke-width="1.35" stroke-opacity="0.92" stroke-linejoin="round"/>
<path d="M813.0,617.5 L822.0,622.5 L824.0,632.5 L830.5,637.5 L842.0,641.0" fill="none" stroke="#0c0c06" stroke-width="1.35" stroke-opacity="0.92" stroke-linejoin="round"/>
<path d="M843.4,632.0 L863.7,637.2 L865.5,662.9 L851.3,662.9 L842.0,657.5 L843.4,632.0" fill="none" stroke="#0c0c06" stroke-width="1.35" stroke-opacity="0.92" stroke-linejoin="round"/>
<path d="M878.0,542.5 L890.5,545.0 L900.5,557.5 L908.0,567.5 L918.0,576.0" fill="none" stroke="#0c0c06" stroke-width="1.35" stroke-opacity="0.92" stroke-linejoin="round"/>
<path d="M969.0,501.0 L972.0,517.5 L965.5,535.0 L953.0,547.5 L940.5,552.5 L930.5,561.0 L920.5,574.0" fill="none" stroke="#0c0c06" stroke-width="1.35" stroke-opacity="0.92" stroke-linejoin="round"/>
<path d="M922.0,575.0 L924.0,595.0 L927.0,620.0 L928.0,632.5" fill="none" stroke="#0c0c06" stroke-width="1.35" stroke-opacity="0.92" stroke-linejoin="round"/>
<path d="M96.0,280.0 C95.8,278.3 98.3,277.0 100.0,277.0 C101.7,277.0 104.5,277.8 106.0,280.0 C107.5,282.2 109.2,287.7 109.0,290.0 C108.8,292.3 106.3,294.5 105.0,294.0 C103.7,293.5 102.5,289.3 101.0,287.0 C99.5,284.7 96.2,281.7 96.0,280.0 Z" fill="#f4f4f4" opacity="0.9"/>
<path d="M126.0,318.0 C126.2,316.3 128.2,314.3 129.0,315.0 C129.8,315.7 130.5,319.8 131.0,322.0 C131.5,324.2 132.5,327.5 132.0,328.0 C131.5,328.5 129.0,326.7 128.0,325.0 C127.0,323.3 125.8,319.7 126.0,318.0 Z" fill="#f4f4f4" opacity="0.9"/>
<path d="M169.5,325.0 C169.8,323.7 171.8,322.0 173.0,323.0 C174.2,324.0 176.7,328.8 177.0,331.0 C177.3,333.2 176.0,336.0 175.0,336.0 C174.0,336.0 171.9,332.8 171.0,331.0 C170.1,329.2 169.2,326.3 169.5,325.0 Z" fill="#f4f4f4" opacity="0.9"/>
<path d="M154.0,396.0 C154.7,394.7 157.7,393.3 160.0,394.0 C162.3,394.7 165.5,397.7 168.0,400.0 C170.5,402.3 174.3,406.2 175.0,408.0 C175.7,409.8 174.0,411.3 172.0,411.0 C170.0,410.7 165.7,407.5 163.0,406.0 C160.3,404.5 157.5,403.7 156.0,402.0 C154.5,400.3 153.3,397.3 154.0,396.0 Z" fill="#f4f4f4" opacity="0.9"/>
<path d="M625.0,383.0 L630.0,381.0 L636.0,383.0 L634.0,389.0 L628.0,390.0 Z" fill="#fff"/>
<path d="M955.5,600.0 L959.0,596.0 L962.0,598.0 L965.5,612.0 L957.0,611.0 Z" fill="#fff"/>
<path d="M94.5,114.0 L192.5,159.0 L207.5,164.0 L230.0,165.5 L295.0,168.5 L295.0,153.8 L350.0,155.5 L357.5,165.0 L375.0,180.0 L390.0,193.8 L397.5,205.0 L402.5,220.0 L409.0,234.0 L420.0,242.5 L430.0,247.5 L440.0,252.5 L447.5,257.5 L452.5,255.0 L460.0,244.0 L465.0,231.0 L476.0,226.0 L490.0,229.0 L505.0,230.0 L510.0,234.0 L520.0,244.0 L530.0,255.0 L535.0,267.5 L542.5,282.5 L552.5,295.0 L562.5,305.0 L567.5,310.0 L567.5,320.0 L571.0,330.0 L577.5,342.5 L582.5,350.0 L595.0,354.0 L607.5,359.0 L622.5,360.0 L635.0,366.0 L644.0,362.5 L644.0,372.5 L639.0,382.5 L632.5,395.0 L629.0,407.5 L627.5,422.5 L627.5,440.0 L626.0,455.0 L625.0,472.5 L625.0,490.0 L630.0,502.5 L636.0,512.5 L644.0,520.0 L642.5,530.0 L647.5,542.5 L655.0,555.0 L662.5,565.0 L667.5,571.0 L672.5,577.5 L675.0,582.0 L680.0,594.5 L687.5,604.5 L695.0,614.5 L705.0,619.5 L720.0,621.0 L732.5,626.0 L740.0,634.5 L747.5,637.0 L757.5,634.5 L775.0,627.0 L795.0,624.5 L805.0,618.0 L818.0,615.0 L833.0,614.0 L845.5,605.0 L858.0,596.0 L868.0,587.5 L869.0,575.0 L875.5,567.5 L875.5,547.5 L877.0,532.5 L880.5,524.0 L890.5,519.0 L908.0,512.5 L928.0,507.5 L940.5,501.0 L950.5,499.0 L968.0,501.0 L975.5,500.0 L983.0,496.0 L990.5,497.5 L995.5,505.0 L997.0,515.0 L993.0,522.5 L988.0,530.0 L980.5,542.5 L977.0,555.0 L978.0,562.5 L975.5,567.5 L979.0,575.0 L977.0,587.5 L973.0,605.0 L970.5,620.0 L965.5,620.0 L963.0,612.5 L955.5,611.0 L948.0,612.5 L940.5,627.5 L933.0,632.5 L928.0,631.0 L928.0,637.5 L864.0,641.5 L865.5,662.5 L853.0,662.5 L850.5,666.0 L865.5,676.0 L878.0,685.0 L889.0,691.0 L889.0,702.5 L850.5,705.0 L843.0,715.0 L835.5,729.0 L834.0,740.0 L792.0,740.0 L787.5,729.0 L780.0,722.0 L765.0,713.0 L750.0,709.0 L735.0,709.0 L720.0,712.0 L705.0,719.5 L692.5,727.0 L675.0,729.0 L665.0,727.0 L655.0,722.0 L640.0,721.0 L625.0,717.0 L610.0,709.5 L602.5,704.5 L590.0,699.5 L570.0,697.0 L555.0,689.5 L537.5,683.0 L520.0,677.0 L505.0,667.0 L495.0,657.0 L480.0,652.0 L465.0,647.0 L447.5,643.0 L435.0,637.0 L427.5,627.0 L415.0,617.0 L400.0,608.5 L387.5,601.0 L377.5,590.0 L369.0,580.0 L367.5,570.0 L362.5,565.0 L366.0,560.0 L374.0,552.5 L369.0,549.0 L375.0,542.5 L379.0,536.0 L379.0,525.0 L370.0,514.0 L367.5,502.5 L365.6,495.0 L362.3,483.7 L349.0,472.0 L337.6,459.0 L327.7,444.2 L317.9,431.0 L301.4,419.5 L290.0,408.0 L284.0,395.0 L275.0,385.0 L265.0,380.0 L252.5,374.0 L246.0,367.5 L247.5,359.0 L252.5,350.0 L251.0,342.5 L245.0,334.0 L235.0,327.5 L225.0,317.5 L214.0,310.0 L211.0,300.0 L212.5,295.0 L211.0,290.0 L200.0,286.0 L190.0,277.5 L182.5,267.5 L175.0,257.5 L169.0,247.5 L165.0,237.5 L160.0,226.0 L154.0,212.5 L151.5,200.0 L147.5,192.5 L142.0,180.0 L144.0,170.0 L139.5,163.0 L129.0,160.0 L127.0,154.5 L120.0,149.0 L116.0,151.0 L107.5,150.0 L100.0,144.0 L95.0,140.0 L90.0,140.0 L91.0,150.0 L88.0,162.5 L92.0,170.0 L94.0,187.5 L93.0,200.0 L99.0,210.0 L107.5,217.5 L116.0,227.5 L122.5,240.0 L130.0,250.0 L137.0,260.0 L143.0,267.5 L144.5,279.0 L146.0,287.5 L154.5,296.0 L162.0,310.0 L169.5,320.0 L178.0,330.0 L182.0,340.0 L186.0,350.0 L187.0,362.5 L192.0,372.5 L197.0,385.0 L203.0,397.5 L202.0,410.0 L207.0,420.0 L216.0,420.0 L225.0,426.0 L232.5,435.0 L241.0,445.0 L242.5,455.0 L235.0,465.0 L225.0,469.0 L220.0,462.5 L216.0,450.0 L205.0,437.5 L197.0,430.0 L187.0,420.0 L177.0,412.5 L167.0,410.0 L158.0,402.5 L152.0,395.0 L158.0,380.0 L161.0,367.5 L158.0,355.0 L152.0,345.0 L142.0,340.0 L132.0,330.0 L124.5,322.5 L117.0,324.0 L111.0,320.0 L102.0,311.0 L91.0,305.0 L88.0,299.0 L79.5,290.0 L72.0,280.0 L84.5,282.5 L96.0,279.0 L103.0,270.0 L104.5,260.0 L99.0,250.0 L87.5,235.0 L80.0,226.0 L72.5,220.0 L60.0,210.0 L56.0,200.0 L55.5,190.0 L51.0,184.0 L49.0,172.5 L43.0,165.0 L44.0,159.0 L40.0,151.0 L34.0,141.0 L37.0,135.0 L32.5,131.0 L30.5,122.5 L27.0,115.0 L24.0,105.5 L98.0,105.5 Z" fill="none" stroke="#000" stroke-width="1.1" stroke-linejoin="round"/>
<path d="M24,106.2 L98,106.2" stroke="#6e6e6e" stroke-width="1.7" fill="none"/>
<path d="M21.5,99 L23,100.5 L23.5,103" stroke="#9a9a9a" stroke-width="1.3" fill="none"/>
<path d="M192.5,159.0 C195.0,159.8 201.2,162.8 207.5,164.0 C213.8,165.2 224.6,164.2 230.0,166.0 C235.4,167.8 235.4,172.0 240.0,175.0 C244.6,178.0 252.1,180.6 257.5,183.8 C262.9,186.9 268.3,189.8 272.5,193.8 C276.7,197.7 279.2,202.7 282.5,207.5 C285.8,212.3 288.8,217.9 292.5,222.5 C296.2,227.1 300.0,231.7 305.0,235.0 C310.0,238.3 316.7,241.0 322.5,242.5 C328.3,244.0 333.3,243.8 340.0,243.8 C346.7,243.8 355.0,242.1 362.5,242.5 C370.0,242.9 377.9,244.6 385.0,246.2 C392.1,247.9 398.3,250.2 405.0,252.5 C411.7,254.8 419.2,257.5 425.0,260.0 C430.8,262.5 435.4,264.6 440.0,267.5 C444.6,270.4 448.8,275.6 452.5,277.5 C456.2,279.4 458.8,279.6 462.5,279.0 C466.2,278.4 471.7,276.3 475.0,274.0 C478.3,271.7 481.0,268.6 482.5,265.0 C484.0,261.4 483.4,256.5 484.0,252.5 C484.6,248.5 484.6,243.9 486.0,241.0 C487.4,238.1 489.3,236.5 492.5,235.0 C495.7,233.5 502.1,232.2 505.0,232.0 C507.9,231.8 507.5,232.0 510.0,234.0 C512.5,236.0 516.7,240.5 520.0,244.0 C523.3,247.5 527.5,251.1 530.0,255.0 C532.5,258.9 532.9,262.9 535.0,267.5 C537.1,272.1 539.6,277.9 542.5,282.5 C545.4,287.1 549.2,291.2 552.5,295.0 C555.8,298.8 560.0,302.5 562.5,305.0 C565.0,307.5 566.7,307.9 567.5,310.0 C568.3,312.1 569.6,315.8 567.5,317.5 C565.4,319.2 559.6,319.2 555.0,320.0 C550.4,320.8 545.0,322.1 540.0,322.5 C535.0,322.9 529.6,322.8 525.0,322.5 C520.4,322.2 516.2,320.8 512.5,321.0 C508.8,321.2 505.0,322.1 502.5,324.0 C500.0,325.9 498.9,328.6 497.5,332.5 C496.1,336.4 496.1,343.9 494.0,347.5 C491.9,351.1 488.6,352.6 485.0,354.0 C481.4,355.4 477.1,355.8 472.5,356.0 C467.9,356.2 461.4,355.0 457.5,355.5 C453.6,356.0 450.4,357.0 449.0,359.0 C447.6,361.0 448.2,364.0 449.0,367.5 C449.8,371.0 452.2,376.2 454.0,380.0 C455.8,383.8 457.8,387.5 460.0,390.0 C462.2,392.5 463.8,394.0 467.5,395.0 C471.2,396.0 478.3,395.2 482.5,396.0 C486.7,396.8 490.2,398.3 492.5,400.0 C494.8,401.7 496.0,403.7 496.0,406.0 C496.0,408.3 495.2,411.5 492.5,414.0 C489.8,416.5 483.8,418.5 480.0,421.0 C476.2,423.5 472.5,425.8 470.0,429.0 C467.5,432.2 466.0,436.5 465.0,440.0 C464.0,443.5 463.8,446.8 464.0,450.0 C464.2,453.2 464.2,456.5 466.0,459.0 C467.8,461.5 471.0,463.9 475.0,465.0 C479.0,466.1 484.2,465.7 490.0,465.5 C495.8,465.3 503.3,464.6 510.0,464.0 C516.7,463.4 524.2,462.2 530.0,462.0 C535.8,461.8 539.6,462.0 545.0,462.5 C550.4,463.0 557.1,464.2 562.5,465.0 C567.9,465.8 572.5,466.2 577.5,467.5 C582.5,468.8 587.9,470.4 592.5,472.5 C597.1,474.6 600.8,477.1 605.0,480.0 C609.2,482.9 613.8,486.7 617.5,490.0 C621.2,493.3 625.4,497.9 627.5,500.0 C629.6,502.1 628.6,500.4 630.0,502.5 C631.4,504.6 633.7,509.6 636.0,512.5 C638.3,515.4 642.9,517.1 644.0,520.0 C645.1,522.9 641.9,526.2 642.5,530.0 C643.1,533.8 645.4,538.3 647.5,542.5 C649.6,546.7 652.5,551.2 655.0,555.0 C657.5,558.8 660.4,562.3 662.5,565.0 C664.6,567.7 667.1,569.3 667.5,571.0 C667.9,572.7 667.1,574.2 665.0,575.0 C662.9,575.8 657.3,574.8 655.0,576.0 C652.7,577.2 651.7,579.8 651.0,582.5 C650.3,585.2 651.6,589.6 651.0,592.5 C650.4,595.4 649.8,598.8 647.5,600.0 C645.2,601.2 641.2,600.2 637.5,600.0 C633.8,599.8 628.8,598.8 625.0,599.0 C621.2,599.2 617.9,599.6 615.0,601.0 C612.1,602.4 609.2,605.2 607.5,607.5 C605.8,609.8 605.8,612.6 605.0,615.0 C604.2,617.4 603.3,618.8 602.5,622.0 C601.7,625.2 601.2,631.3 600.0,634.5 C598.8,637.7 597.5,639.6 595.0,641.0 C592.5,642.4 588.8,643.0 585.0,643.0 C581.2,643.0 575.8,642.7 572.5,641.0 C569.2,639.3 567.9,634.7 565.0,633.0 C562.1,631.3 559.2,631.2 555.0,631.0 C550.8,630.8 545.0,631.0 540.0,632.0 C535.0,633.0 530.8,635.8 525.0,637.0 C519.2,638.2 511.2,639.9 505.0,639.5 C498.8,639.1 492.5,637.0 487.5,634.5 C482.5,632.0 478.8,628.2 475.0,624.5 C471.2,620.8 469.2,615.6 465.0,612.0 C460.8,608.4 455.8,605.7 450.0,603.0 C444.2,600.3 435.8,599.1 430.0,596.0 C424.2,592.9 419.2,588.5 415.0,584.5 C410.8,580.5 407.3,575.2 405.0,572.0 C402.7,568.8 402.5,567.8 401.0,565.0 C399.5,562.2 398.2,557.9 396.0,555.0 C393.8,552.1 390.8,549.3 387.5,547.5 C384.2,545.7 377.4,545.8 376.0,544.0 C374.6,542.2 378.5,540.2 379.0,537.0 C379.5,533.8 380.5,528.8 379.0,525.0 C377.5,521.2 371.9,517.8 370.0,514.0 C368.1,510.2 368.2,505.7 367.5,502.5 C366.8,499.3 366.5,498.1 365.6,495.0 C364.7,491.9 365.1,487.5 362.3,483.7 C359.5,479.9 353.1,476.1 349.0,472.0 C344.9,467.9 341.2,463.6 337.6,459.0 C334.1,454.4 331.0,448.9 327.7,444.2 C324.4,439.5 322.3,435.1 317.9,431.0 C313.5,426.9 306.0,423.3 301.4,419.5 C296.8,415.7 292.9,412.1 290.0,408.0 C287.1,403.9 286.5,398.8 284.0,395.0 C281.5,391.2 278.2,387.5 275.0,385.0 C271.8,382.5 268.8,381.8 265.0,380.0 C261.2,378.2 255.7,376.1 252.5,374.0 C249.3,371.9 246.8,370.0 246.0,367.5 C245.2,365.0 246.4,361.9 247.5,359.0 C248.6,356.1 251.9,352.8 252.5,350.0 C253.1,347.2 252.2,345.2 251.0,342.5 C249.8,339.8 247.7,336.5 245.0,334.0 C242.3,331.5 238.3,330.2 235.0,327.5 C231.7,324.8 228.5,320.4 225.0,317.5 C221.5,314.6 216.3,312.9 214.0,310.0 C211.7,307.1 211.2,302.5 211.0,300.0 C210.8,297.5 212.5,296.7 212.5,295.0 C212.5,293.3 213.1,291.5 211.0,290.0 C208.9,288.5 203.5,288.1 200.0,286.0 C196.5,283.9 192.9,280.6 190.0,277.5 C187.1,274.4 185.0,270.8 182.5,267.5 C180.0,264.2 177.2,260.8 175.0,257.5 C172.8,254.2 170.7,250.8 169.0,247.5 C167.3,244.2 166.5,241.1 165.0,237.5 C163.5,233.9 161.8,230.2 160.0,226.0 C158.2,221.8 155.4,216.8 154.0,212.5 C152.6,208.2 151.8,202.8 151.5,200.0 C151.2,197.2 151.1,197.8 152.5,196.0 C153.9,194.2 156.2,191.2 160.0,189.0 C163.8,186.8 170.8,185.2 175.0,182.5 C179.2,179.8 182.1,176.4 185.0,172.5 C187.9,168.6 191.2,161.2 192.5,159.0 C193.8,156.8 190.0,158.2 192.5,159.0 Z" fill="none" stroke="#000" stroke-width="3" stroke-linejoin="round"/>
<path d="M892.5,471.0 C892.8,470.2 894.1,469.6 895.0,470.0 C895.9,470.4 897.8,472.5 898.0,473.5 C898.2,474.5 897.2,475.8 896.5,476.0 C895.8,476.2 894.2,475.3 893.5,474.5 C892.8,473.7 892.2,471.8 892.5,471.0 Z" fill="#fff" stroke="#000" stroke-width="1"/>
<path d="M984.0,600.0 C984.6,598.8 986.0,597.7 987.0,597.5 C988.0,597.3 989.4,597.8 990.0,599.0 C990.6,600.2 990.8,603.0 990.5,605.0 C990.2,607.0 989.0,610.2 988.0,611.0 C987.0,611.8 985.2,611.0 984.5,610.0 C983.8,609.0 983.6,606.7 983.5,605.0 C983.4,603.3 983.4,601.2 984.0,600.0 Z" fill="#fff" stroke="#000" stroke-width="1"/>
<path d="M186.0,361.0 C186.4,358.7 188.1,355.4 189.5,354.0 C190.9,352.6 194.1,351.8 194.5,352.5 C194.9,353.2 193.1,356.0 192.0,358.0 C190.9,360.0 188.8,362.8 188.0,364.5 C187.2,366.2 187.3,368.6 187.0,368.0 C186.7,367.4 185.6,363.3 186.0,361.0 Z" fill="#fff" stroke="#000" stroke-width="1"/>
<path d="M203.5,391.0 C203.7,389.8 205.2,389.2 206.0,389.5 C206.8,389.8 208.2,391.5 208.5,393.0 C208.8,394.5 208.6,397.8 208.0,398.5 C207.4,399.2 205.8,398.2 205.0,397.0 C204.2,395.8 203.3,392.2 203.5,391.0 Z" fill="#bbb" stroke="#000" stroke-width="1"/>
<path d="M212.0,407.5 C212.2,406.8 213.5,406.1 214.0,406.5 C214.5,406.9 215.0,408.9 215.0,410.0 C215.0,411.1 214.4,412.8 214.0,413.0 C213.6,413.2 212.8,411.9 212.5,411.0 C212.2,410.1 211.8,408.2 212.0,407.5 Z" fill="#bbb" stroke="#000" stroke-width="1"/>
<path d="M227.0,417.0 C227.2,416.2 228.4,415.8 229.0,416.5 C229.6,417.2 230.4,419.8 230.5,421.0 C230.6,422.2 230.0,424.0 229.5,424.0 C229.0,424.0 227.9,422.2 227.5,421.0 C227.1,419.8 226.8,417.8 227.0,417.0 Z" fill="#bbb" stroke="#000" stroke-width="1"/>
<path d="M360.5,527.0 C360.5,526.5 361.5,525.8 362.0,525.8 C362.5,525.8 363.5,526.7 363.5,527.2 C363.5,527.7 362.5,529.0 362.0,529.0 C361.5,529.0 360.5,527.5 360.5,527.0 Z" fill="#fff" stroke="#000" stroke-width="1"/>
<path d="M352.0,520.5 C352.0,520.0 353.0,519.4 353.5,519.5 C354.0,519.6 355.0,520.5 355.0,521.0 C355.0,521.5 354.0,522.6 353.5,522.5 C353.0,522.4 352.0,521.0 352.0,520.5 Z" fill="#fff" stroke="#000" stroke-width="1"/>
<path d="M345.5,516.0 C345.5,515.5 346.5,514.9 347.0,515.0 C347.5,515.1 348.5,516.0 348.5,516.5 C348.5,517.0 347.5,518.1 347.0,518.0 C346.5,517.9 345.5,516.5 345.5,516.0 Z" fill="#fff" stroke="#000" stroke-width="1"/>
<circle cx="840" cy="490" r="0.9" fill="#000"/>
<circle cx="817" cy="502" r="0.9" fill="#000"/>
<circle cx="812" cy="533" r="0.9" fill="#000"/>
<circle cx="815" cy="535" r="0.9" fill="#000"/>
<circle cx="825.5" cy="559" r="0.9" fill="#000"/>
<circle cx="57" cy="262" r="0.9" fill="#000"/>
<circle cx="145" cy="257" r="0.9" fill="#000"/>
<circle cx="152" cy="255" r="0.9" fill="#000"/>
<circle cx="159.5" cy="267.5" r="0.9" fill="#000"/>
<circle cx="188" cy="285" r="0.9" fill="#000"/>
<circle cx="172" cy="302.5" r="0.9" fill="#000"/>
<circle cx="165" cy="310" r="0.9" fill="#000"/>
<circle cx="194.5" cy="366" r="0.9" fill="#000"/>
<circle cx="202" cy="367.5" r="0.9" fill="#000"/>
<circle cx="204" cy="381" r="0.9" fill="#000"/>
<circle cx="141" cy="264" r="0.9" fill="#000"/>
<circle cx="129" cy="259" r="0.9" fill="#000"/>
<circle cx="120.5" cy="223" r="0.9" fill="#000"/>
<g font-family="Liberation Sans, sans-serif" fill="#000">
<text x="555.5" y="133.5" font-size="31" font-weight="bold" text-anchor="middle" textLength="448" lengthAdjust="spacingAndGlyphs">Monitor de Sequía de México</text>
<text x="556" y="160.5" font-size="22" font-weight="bold" text-anchor="middle" textLength="226.5" lengthAdjust="spacingAndGlyphs">al 15 de abril de 2024</text>
<text x="555.5" y="184" font-size="15" font-weight="bold" text-anchor="middle" textLength="234.5" lengthAdjust="spacingAndGlyphs">Publicado el 18 de abril de 2024</text>
<!-- region labels -->
<g font-weight="bold" font-size="16" fill="#3a0a0a">
<text x="316" y="185">SL</text>
<text x="228" y="234">L</text>
<text x="589" y="421">SL</text>
<text x="501" y="561">L</text>
<text x="629.5" y="704">SL</text>
</g>
<g font-weight="bold" font-size="16" fill="#222">
<text x="919" y="525">SL</text>
<text x="828" y="691">SL</text>
</g>
<!-- legend -->
<g font-size="12.6" fill="#2b2b2b">
<text x="31" y="468.8" font-weight="bold" font-style="italic" font-size="12.6" fill="#111" textLength="126" lengthAdjust="spacingAndGlyphs">Intensidad de sequía:</text>
<rect x="31" y="470.3" width="126.5" height="1.2" fill="#111"/>
<rect x="31.2" y="477.7" width="17.3" height="12.5" fill="#ffff00"/>
<rect x="31.2" y="492.3" width="17.3" height="12.5" fill="#fdd380"/>
<rect x="31.2" y="507.4" width="17.3" height="12.6" fill="#e69b00"/>
<rect x="31.2" y="522.3" width="17.3" height="12.5" fill="#e60000"/>
<rect x="31.2" y="537.1" width="17.3" height="12.6" fill="#730000"/>
<rect x="31.2" y="552.5" width="17.3" height="12.9" fill="#bbbbbb"/>
<text x="52.5" y="487" textLength="128.5" lengthAdjust="spacingAndGlyphs">D0 Anormalmente seco</text>
<text x="52.5" y="502" textLength="117" lengthAdjust="spacingAndGlyphs">D1 Sequía moderada</text>
<text x="52.5" y="517.3" textLength="99" lengthAdjust="spacingAndGlyphs">D2 Sequía severa</text>
<text x="53.5" y="532.7" textLength="106" lengthAdjust="spacingAndGlyphs">D3 Sequía extrema</text>
<text x="53.5" y="548" textLength="127" lengthAdjust="spacingAndGlyphs">D4 Sequía excepcional</text>
<text x="54" y="563.8" textLength="58" lengthAdjust="spacingAndGlyphs">Sin sequía</text>
<text x="31" y="583.2" font-weight="bold" font-style="italic" fill="#111" textLength="166" lengthAdjust="spacingAndGlyphs">Tipos de impacto de sequía:</text>
<rect x="31" y="584.8" width="167" height="1.2" fill="#111"/>
<path d="M31.5,608 C30.5,602 33,598 37,599.5 C41,601.5 46,602 51.5,595.5" fill="none" stroke="#000" stroke-width="2.6" stroke-linecap="round"/>
<text x="65" y="608.8" textLength="164.5" lengthAdjust="spacingAndGlyphs">Delimita impactos dominantes</text>
<text x="31" y="624" textLength="220" lengthAdjust="spacingAndGlyphs">S= Corto periodo, típicamente &lt;6meses</text>
<text x="52" y="638.8" textLength="155" lengthAdjust="spacingAndGlyphs">(p.ej. agricultura, pastizales)</text>
<text x="31" y="657.5" textLength="223" lengthAdjust="spacingAndGlyphs">L= Largo periodo, tipicamente &gt;6 meses</text>
<text x="34.5" y="671.8" textLength="143.5" lengthAdjust="spacingAndGlyphs">(p.ej. hidrología, ecología)</text>
</g>
<text x="76" y="726" font-size="14.3" font-weight="bold" textLength="36.5" lengthAdjust="spacingAndGlyphs">2024</text>
</g>
<!-- CONAGUA logo -->
<g>
<g fill="none" stroke-linecap="butt">
<path d="M743.3,284 C735,291 729.2,297.5 728.9,305.5 C728.6,314 734.5,320.3 742.5,320.6 C746,320.7 749,319.5 751.2,317.6" stroke="#1f5c9c" stroke-width="2.3"/>
<path d="M743.8,288 C737.5,294 732.5,299.5 732.2,306 C731.9,312.5 736.5,317 743,317.6 C746.5,317.8 749.5,316.8 751.7,315.2" stroke="#3c8ccf" stroke-width="2"/>
<path d="M744,292 C739.5,296.5 735.6,301 735.3,306 C735,310 737,312.8 740,314" stroke="#8fc6ec" stroke-width="1.8"/>
<path d="M737.5,314.8 C740,313.2 742,315.6 744.5,314.4 C747,313.2 749,314.6 751.5,313.6" stroke="#2f76bd" stroke-width="1.3"/>
</g>
<path d="M736.8,311.6 L737.6,306 L741.5,301.4 L745.4,299.1 L749.3,299.9 L750.1,302.2 L748.5,303.8 L752.5,307.7 L747.8,307.7 L745.4,310 L740.7,311.6 Z" fill="#b88e53"/>
<text x="762" y="304.8" font-family="Liberation Serif, serif" font-size="22.5" fill="#7a7a7a" stroke="#787878" stroke-width="0.7" textLength="110" lengthAdjust="spacingAndGlyphs">CONAGUA</text>
<text x="762" y="315.6" font-family="Liberation Sans, sans-serif" font-size="4.6" font-weight="bold" fill="#8a8a8a" textLength="86.5" lengthAdjust="spacingAndGlyphs">COMISIÓN NACIONAL DEL AGUA</text>
<rect x="888.6" y="289" width="1" height="33" fill="#cdb98f"/>
<!-- SMN icon -->
<g fill="none" stroke-linecap="butt">
<path d="M923.3,287.5 A15.2,15.2 0 0 1 939,303.2" stroke="#2a4b9b" stroke-width="5.8" stroke-dasharray="5.3 1.1"/>
<path d="M924.3,317.9 A15.2,15.2 0 0 1 908.6,302.2" stroke="#2a4b9b" stroke-width="5.8" stroke-dasharray="5.3 1.1"/>
<path d="M923.5,303 C923.5,300.8 926.8,300.8 926.8,303.4 C926.8,307 921,307.4 920,303 C919,297.5 926,295 930,298.5 C933,301.5 932.5,306.5 929,309.5" stroke="#c9a265" stroke-width="2.1"/>
<path d="M920.5,298.5 C918,294 912,291 908.5,293 C905.5,295 906.5,299 909.5,299 C911.5,299 912,297 911,296" stroke="#c9a265" stroke-width="2.1"/>
<path d="M929,309.5 C932,313 937.5,314 940,311.5 C942,309 940.5,306 938,306.5 C936.5,307 936.3,308.5 937,309.3" stroke="#c9a265" stroke-width="2.1"/>
</g>
<text x="947" y="304.8" font-family="Liberation Serif, serif" font-size="22.5" fill="#7a7a7a" stroke="#787878" stroke-width="0.7" textLength="52" lengthAdjust="spacingAndGlyphs">SMN</text>
<g font-family="Liberation Sans, sans-serif" font-size="4.2" fill="#aaa">
<text x="948" y="315.2" textLength="23" lengthAdjust="spacingAndGlyphs">SERVICIO</text>
<text x="948" y="320.4" textLength="43" lengthAdjust="spacingAndGlyphs">METEOROLÓGICO</text>
<text x="948" y="325.6" textLength="24" lengthAdjust="spacingAndGlyphs">NACIONAL</text>
</g>
</g>
<!-- compass -->
<g>
<g font-family="Liberation Serif, serif" font-weight="bold" font-size="13" fill="#111" text-anchor="middle">
<text x="945.5" y="366">N</text>
<text x="945.5" y="420">S</text>
<text x="918" y="392.3">W</text>
<text x="971.8" y="392.5">E</text>
</g>
<path d="M945.5,368.5 L949.3,384.2 L965,388 L949.3,391.8 L945.5,407.7 L941.7,391.8 L926.8,388 L941.7,384.2 Z" fill="#fff" stroke="#111" stroke-width="1"/>
<path d="M945.5,368.5 L945.5,388 L941.7,384.2 Z M965,388 L945.5,388 L949.3,384.2 Z M945.5,407.7 L945.5,388 L949.3,391.8 Z M926.8,388 L945.5,388 L941.7,391.8 Z" fill="#111"/>
<path d="M945.5,368.5 L945.5,388 L949.3,384.2 Z M926.8,388 L945.5,388 L941.7,384.2 Z" fill="#111" opacity="0.55"/>
</g>

</svg>
</body></html>
